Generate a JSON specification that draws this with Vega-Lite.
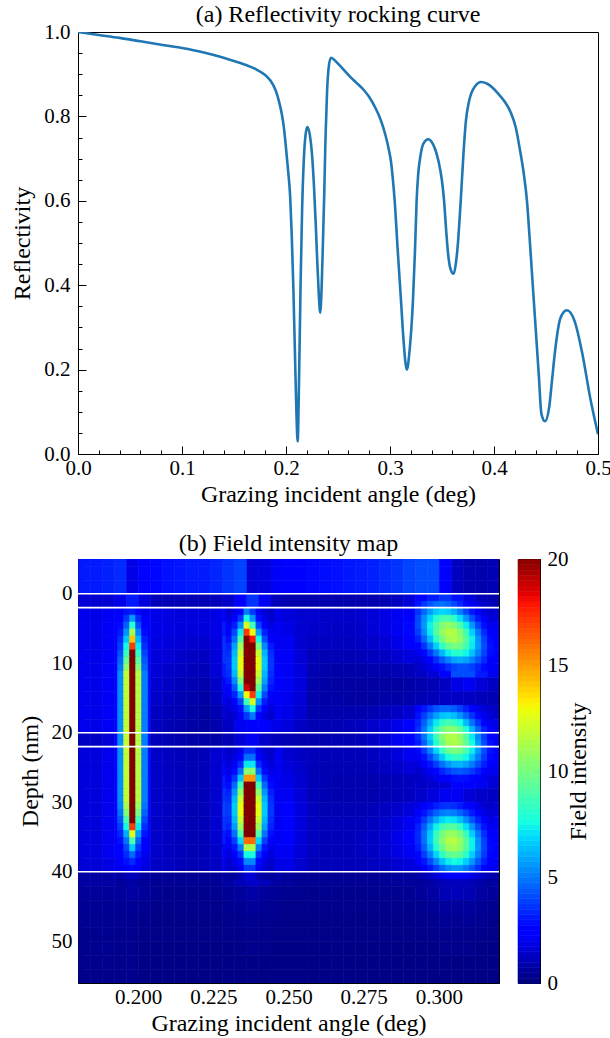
{
  "$schema": "https://vega.github.io/schema/vega-lite/v6.json",
  "background": "white",
  "padding": {"left": 10, "top": 2, "right": 5, "bottom": 2},
  "config": {
    "font": "Liberation Serif",
    "view": {"stroke": "black", "strokeWidth": 1},
    "axis": {"labelFont": "Liberation Serif", "titleFont": "Liberation Serif", "labelFontSize": 21, "titleFontSize": 24, "labelColor": "black", "titleColor": "black", "titleFontWeight": "normal", "domainColor": "black", "tickColor": "black", "grid": false, "labelFlush": false, "labelOverlap": false, "zindex": 1},
    "title": {"font": "Liberation Serif", "fontSize": 24, "fontWeight": "normal", "color": "black"}
  },
  "datasets": {
    "refl": [
      {"a":0,"r":1.0},{"a":0.02,"r":0.993},{"a":0.04,"r":0.986},{"a":0.06,"r":0.978},{"a":0.08,"r":0.97},{"a":0.1,"r":0.962},{"a":0.12,"r":0.952},{"a":0.14,"r":0.939},{"a":0.16,"r":0.923},{"a":0.17,"r":0.913},{"a":0.18,"r":0.898},{"a":0.185,"r":0.885},{"a":0.19,"r":0.862},{"a":0.193,"r":0.838},{"a":0.196,"r":0.805},{"a":0.198,"r":0.773},{"a":0.2,"r":0.725},{"a":0.202,"r":0.672},{"a":0.204,"r":0.61},{"a":0.2055,"r":0.52},{"a":0.207,"r":0.4},{"a":0.2085,"r":0.25},{"a":0.21,"r":0.1},{"a":0.2112,"r":0.03},{"a":0.2125,"r":0.17},{"a":0.214,"r":0.4},{"a":0.2155,"r":0.58},{"a":0.217,"r":0.69},{"a":0.219,"r":0.76},{"a":0.2206,"r":0.775},{"a":0.223,"r":0.755},{"a":0.225,"r":0.71},{"a":0.227,"r":0.63},{"a":0.2285,"r":0.55},{"a":0.23,"r":0.46},{"a":0.2315,"r":0.38},{"a":0.2329,"r":0.335},{"a":0.2342,"r":0.39},{"a":0.2355,"r":0.5},{"a":0.2368,"r":0.62},{"a":0.238,"r":0.75},{"a":0.2395,"r":0.86},{"a":0.241,"r":0.915},{"a":0.2431,"r":0.939},{"a":0.246,"r":0.935},{"a":0.25,"r":0.925},{"a":0.256,"r":0.909},{"a":0.262,"r":0.893},{"a":0.268,"r":0.879},{"a":0.275,"r":0.862},{"a":0.28,"r":0.846},{"a":0.286,"r":0.82},{"a":0.291,"r":0.792},{"a":0.2956,"r":0.756},{"a":0.299,"r":0.72},{"a":0.301,"r":0.692},{"a":0.3028,"r":0.65},{"a":0.3045,"r":0.6},{"a":0.3075,"r":0.48},{"a":0.3106,"r":0.363},{"a":0.313,"r":0.27},{"a":0.3162,"r":0.2},{"a":0.319,"r":0.25},{"a":0.322,"r":0.36},{"a":0.324,"r":0.48},{"a":0.3256,"r":0.6},{"a":0.327,"r":0.66},{"a":0.329,"r":0.702},{"a":0.332,"r":0.735},{"a":0.3368,"r":0.746},{"a":0.34,"r":0.74},{"a":0.344,"r":0.718},{"a":0.347,"r":0.69},{"a":0.35,"r":0.647},{"a":0.352,"r":0.6},{"a":0.354,"r":0.53},{"a":0.3556,"r":0.481},{"a":0.358,"r":0.44},{"a":0.3612,"r":0.427},{"a":0.3635,"r":0.455},{"a":0.3655,"r":0.505},{"a":0.367,"r":0.56},{"a":0.368,"r":0.6},{"a":0.3706,"r":0.71},{"a":0.373,"r":0.79},{"a":0.376,"r":0.836},{"a":0.382,"r":0.872},{"a":0.3875,"r":0.8815},{"a":0.393,"r":0.878},{"a":0.3987,"r":0.868},{"a":0.404,"r":0.854},{"a":0.41,"r":0.836},{"a":0.416,"r":0.81},{"a":0.421,"r":0.773},{"a":0.425,"r":0.72},{"a":0.4287,"r":0.663},{"a":0.4317,"r":0.6},{"a":0.434,"r":0.521},{"a":0.437,"r":0.41},{"a":0.44,"r":0.3},{"a":0.443,"r":0.19},{"a":0.4456,"r":0.095},{"a":0.449,"r":0.0775},{"a":0.453,"r":0.11},{"a":0.456,"r":0.18},{"a":0.4587,"r":0.244},{"a":0.464,"r":0.323},{"a":0.47,"r":0.3405},{"a":0.4775,"r":0.315},{"a":0.485,"r":0.237},{"a":0.4925,"r":0.133},{"a":0.5,"r":0.047}
    ],
    "layers": [{"d":0},{"d":2},{"d":20},{"d":22},{"d":40}],
    "cbar": [
      {"c":0},{"c":0.25},{"c":0.5},{"c":0.75},{"c":1},{"c":1.25},{"c":1.5},{"c":1.75},{"c":2},{"c":2.25},{"c":2.5},{"c":2.75},{"c":3},{"c":3.25},{"c":3.5},{"c":3.75},{"c":4},{"c":4.25},{"c":4.5},{"c":4.75},{"c":5},{"c":5.25},{"c":5.5},{"c":5.75},{"c":6},{"c":6.25},{"c":6.5},{"c":6.75},{"c":7},{"c":7.25},{"c":7.5},{"c":7.75},{"c":8},{"c":8.25},{"c":8.5},{"c":8.75},{"c":9},{"c":9.25},{"c":9.5},{"c":9.75},{"c":10},{"c":10.25},{"c":10.5},{"c":10.75},{"c":11},{"c":11.25},{"c":11.5},{"c":11.75},{"c":12},{"c":12.25},{"c":12.5},{"c":12.75},{"c":13},{"c":13.25},{"c":13.5},{"c":13.75},{"c":14},{"c":14.25},{"c":14.5},{"c":14.75},{"c":15},{"c":15.25},{"c":15.5},{"c":15.75},{"c":16},{"c":16.25},{"c":16.5},{"c":16.75},{"c":17},{"c":17.25},{"c":17.5},{"c":17.75},{"c":18},{"c":18.25},{"c":18.5},{"c":18.75},{"c":19},{"c":19.25},{"c":19.5},{"c":19.75}
    ],
    "field": [
      {"a":0.18,"d":-6,"v":3},{"a":0.184,"d":-6,"v":3},{"a":0.188,"d":-6,"v":3.1},{"a":0.192,"d":-6,"v":3.3},{"a":0.196,"d":-6,"v":1.8},{"a":0.2,"d":-6,"v":2.3},{"a":0.204,"d":-6,"v":2.6},{"a":0.208,"d":-6,"v":2.8},{"a":0.212,"d":-6,"v":2.9},{"a":0.216,"d":-6,"v":3},{"a":0.22,"d":-6,"v":3},{"a":0.224,"d":-6,"v":3.2},{"a":0.228,"d":-6,"v":3.5},{"a":0.232,"d":-6,"v":3.8},{"a":0.236,"d":-6,"v":1.5},{"a":0.24,"d":-6,"v":1.6},{"a":0.244,"d":-6,"v":2.1},{"a":0.248,"d":-6,"v":2.4},{"a":0.252,"d":-6,"v":2.5},{"a":0.256,"d":-6,"v":2.6},{"a":0.26,"d":-6,"v":2.7},{"a":0.264,"d":-6,"v":2.8},{"a":0.268,"d":-6,"v":2.9},{"a":0.272,"d":-6,"v":3},{"a":0.276,"d":-6,"v":3.1},{"a":0.28,"d":-6,"v":3.3},{"a":0.284,"d":-6,"v":3.5},{"a":0.288,"d":-6,"v":3.8},{"a":0.292,"d":-6,"v":4},{"a":0.296,"d":-6,"v":4},{"a":0.3,"d":-6,"v":2.5},{"a":0.304,"d":-6,"v":1.1},{"a":0.308,"d":-6,"v":0.8},{"a":0.312,"d":-6,"v":0.8},{"a":0.316,"d":-6,"v":0.9},
      {"a":0.18,"d":-4,"v":3},{"a":0.184,"d":-4,"v":3},{"a":0.188,"d":-4,"v":3.1},{"a":0.192,"d":-4,"v":3.3},{"a":0.196,"d":-4,"v":1.8},{"a":0.2,"d":-4,"v":2.3},{"a":0.204,"d":-4,"v":2.6},{"a":0.208,"d":-4,"v":2.8},{"a":0.212,"d":-4,"v":2.9},{"a":0.216,"d":-4,"v":3},{"a":0.22,"d":-4,"v":3},{"a":0.224,"d":-4,"v":3.2},{"a":0.228,"d":-4,"v":3.5},{"a":0.232,"d":-4,"v":3.8},{"a":0.236,"d":-4,"v":1.5},{"a":0.24,"d":-4,"v":1.6},{"a":0.244,"d":-4,"v":2.1},{"a":0.248,"d":-4,"v":2.4},{"a":0.252,"d":-4,"v":2.5},{"a":0.256,"d":-4,"v":2.6},{"a":0.26,"d":-4,"v":2.7},{"a":0.264,"d":-4,"v":2.8},{"a":0.268,"d":-4,"v":2.9},{"a":0.272,"d":-4,"v":3},{"a":0.276,"d":-4,"v":3.1},{"a":0.28,"d":-4,"v":3.3},{"a":0.284,"d":-4,"v":3.5},{"a":0.288,"d":-4,"v":3.8},{"a":0.292,"d":-4,"v":4},{"a":0.296,"d":-4,"v":4},{"a":0.3,"d":-4,"v":2.5},{"a":0.304,"d":-4,"v":1.1},{"a":0.308,"d":-4,"v":0.8},{"a":0.312,"d":-4,"v":0.8},{"a":0.316,"d":-4,"v":0.9},
      {"a":0.18,"d":-2,"v":3},{"a":0.184,"d":-2,"v":3},{"a":0.188,"d":-2,"v":3.1},{"a":0.192,"d":-2,"v":3.3},{"a":0.196,"d":-2,"v":1.8},{"a":0.2,"d":-2,"v":2.3},{"a":0.204,"d":-2,"v":2.6},{"a":0.208,"d":-2,"v":2.8},{"a":0.212,"d":-2,"v":2.9},{"a":0.216,"d":-2,"v":3},{"a":0.22,"d":-2,"v":3},{"a":0.224,"d":-2,"v":3.2},{"a":0.228,"d":-2,"v":3.5},{"a":0.232,"d":-2,"v":3.8},{"a":0.236,"d":-2,"v":1.5},{"a":0.24,"d":-2,"v":1.6},{"a":0.244,"d":-2,"v":2.1},{"a":0.248,"d":-2,"v":2.4},{"a":0.252,"d":-2,"v":2.5},{"a":0.256,"d":-2,"v":2.6},{"a":0.26,"d":-2,"v":2.7},{"a":0.264,"d":-2,"v":2.8},{"a":0.268,"d":-2,"v":2.9},{"a":0.272,"d":-2,"v":3},{"a":0.276,"d":-2,"v":3.1},{"a":0.28,"d":-2,"v":3.3},{"a":0.284,"d":-2,"v":3.5},{"a":0.288,"d":-2,"v":3.8},{"a":0.292,"d":-2,"v":4},{"a":0.296,"d":-2,"v":4},{"a":0.3,"d":-2,"v":2.5},{"a":0.304,"d":-2,"v":1.1},{"a":0.308,"d":-2,"v":0.8},{"a":0.312,"d":-2,"v":0.8},{"a":0.316,"d":-2,"v":0.9},
      {"a":0.18,"d":0,"v":1.5},{"a":0.184,"d":0,"v":1.4},{"a":0.188,"d":0,"v":1.4},{"a":0.192,"d":0,"v":1.8},{"a":0.196,"d":0,"v":3},{"a":0.2,"d":0,"v":1.6},{"a":0.204,"d":0,"v":1},{"a":0.208,"d":0,"v":0.9},{"a":0.212,"d":0,"v":0.9},{"a":0.216,"d":0,"v":0.9},{"a":0.22,"d":0,"v":0.9},{"a":0.224,"d":0,"v":1},{"a":0.228,"d":0,"v":1.3},{"a":0.232,"d":0,"v":2.5},{"a":0.236,"d":0,"v":3.5},{"a":0.24,"d":0,"v":2},{"a":0.244,"d":0,"v":1},{"a":0.248,"d":0,"v":0.8},{"a":0.252,"d":0,"v":0.8},{"a":0.256,"d":0,"v":0.8},{"a":0.26,"d":0,"v":0.8},{"a":0.264,"d":0,"v":0.8},{"a":0.268,"d":0,"v":0.8},{"a":0.272,"d":0,"v":0.8},{"a":0.276,"d":0,"v":0.8},{"a":0.28,"d":0,"v":0.9},{"a":0.284,"d":0,"v":1.1},{"a":0.288,"d":0,"v":1.5},{"a":0.292,"d":0,"v":2.2},{"a":0.296,"d":0,"v":3},{"a":0.3,"d":0,"v":3.5},{"a":0.304,"d":0,"v":2.8},{"a":0.308,"d":0,"v":1.6},{"a":0.312,"d":0,"v":1},{"a":0.316,"d":0,"v":0.8},
      {"a":0.18,"d":2,"v":1.9},{"a":0.184,"d":2,"v":1.8},{"a":0.188,"d":2,"v":2.1},{"a":0.192,"d":2,"v":2.5},{"a":0.196,"d":2,"v":5},{"a":0.2,"d":2,"v":2.2},{"a":0.204,"d":2,"v":1.8},{"a":0.208,"d":2,"v":1.7},{"a":0.212,"d":2,"v":1.6},{"a":0.216,"d":2,"v":1.6},{"a":0.22,"d":2,"v":1.6},{"a":0.224,"d":2,"v":1.8},{"a":0.228,"d":2,"v":2.5},{"a":0.232,"d":2,"v":4},{"a":0.236,"d":2,"v":4.5},{"a":0.24,"d":2,"v":2.5},{"a":0.244,"d":2,"v":1.8},{"a":0.248,"d":2,"v":1.6},{"a":0.252,"d":2,"v":1.4},{"a":0.256,"d":2,"v":1.4},{"a":0.26,"d":2,"v":1.3},{"a":0.264,"d":2,"v":1.3},{"a":0.268,"d":2,"v":1.3},{"a":0.272,"d":2,"v":1.4},{"a":0.276,"d":2,"v":1.5},{"a":0.28,"d":2,"v":1.7},{"a":0.284,"d":2,"v":2},{"a":0.288,"d":2,"v":2.3},{"a":0.292,"d":2,"v":3.5},{"a":0.296,"d":2,"v":6},{"a":0.3,"d":2,"v":8},{"a":0.304,"d":2,"v":7},{"a":0.308,"d":2,"v":4},{"a":0.312,"d":2,"v":2},{"a":0.316,"d":2,"v":1.5},
      {"a":0.18,"d":4,"v":1.9},{"a":0.184,"d":4,"v":1.8},{"a":0.188,"d":4,"v":2.1},{"a":0.192,"d":4,"v":2.5},{"a":0.196,"d":4,"v":10},{"a":0.2,"d":4,"v":2.2},{"a":0.204,"d":4,"v":1.8},{"a":0.208,"d":4,"v":1.7},{"a":0.212,"d":4,"v":1.6},{"a":0.216,"d":4,"v":1.6},{"a":0.22,"d":4,"v":1.6},{"a":0.224,"d":4,"v":1.8},{"a":0.228,"d":4,"v":3},{"a":0.232,"d":4,"v":8},{"a":0.236,"d":4,"v":13},{"a":0.24,"d":4,"v":3.5},{"a":0.244,"d":4,"v":2},{"a":0.248,"d":4,"v":1.8},{"a":0.252,"d":4,"v":1.4},{"a":0.256,"d":4,"v":1.3},{"a":0.26,"d":4,"v":1.3},{"a":0.264,"d":4,"v":1.2},{"a":0.268,"d":4,"v":1.2},{"a":0.272,"d":4,"v":1.3},{"a":0.276,"d":4,"v":1.5},{"a":0.28,"d":4,"v":1.7},{"a":0.284,"d":4,"v":2},{"a":0.288,"d":4,"v":2.6},{"a":0.292,"d":4,"v":4},{"a":0.296,"d":4,"v":7},{"a":0.3,"d":4,"v":10.5},{"a":0.304,"d":4,"v":10.5},{"a":0.308,"d":4,"v":7},{"a":0.312,"d":4,"v":3.5},{"a":0.316,"d":4,"v":2},
      {"a":0.18,"d":6,"v":1.9},{"a":0.184,"d":6,"v":1.8},{"a":0.188,"d":6,"v":2.1},{"a":0.192,"d":6,"v":2.5},{"a":0.196,"d":6,"v":15},{"a":0.2,"d":6,"v":2.2},{"a":0.204,"d":6,"v":1.7},{"a":0.208,"d":6,"v":1.6},{"a":0.212,"d":6,"v":1.5},{"a":0.216,"d":6,"v":1.4},{"a":0.22,"d":6,"v":1.4},{"a":0.224,"d":6,"v":1.7},{"a":0.228,"d":6,"v":3.5},{"a":0.232,"d":6,"v":11},{"a":0.236,"d":6,"v":22},{"a":0.24,"d":6,"v":5},{"a":0.244,"d":6,"v":2},{"a":0.248,"d":6,"v":2},{"a":0.252,"d":6,"v":1.4},{"a":0.256,"d":6,"v":1.2},{"a":0.26,"d":6,"v":1.1},{"a":0.264,"d":6,"v":1.1},{"a":0.268,"d":6,"v":1.1},{"a":0.272,"d":6,"v":1.2},{"a":0.276,"d":6,"v":1.3},{"a":0.28,"d":6,"v":1.5},{"a":0.284,"d":6,"v":1.8},{"a":0.288,"d":6,"v":2.2},{"a":0.292,"d":6,"v":3.2},{"a":0.296,"d":6,"v":5.5},{"a":0.3,"d":6,"v":9},{"a":0.304,"d":6,"v":11},{"a":0.308,"d":6,"v":8.5},{"a":0.312,"d":6,"v":4.5},{"a":0.316,"d":6,"v":2.5},
      {"a":0.18,"d":8,"v":1.9},{"a":0.184,"d":8,"v":1.8},{"a":0.188,"d":8,"v":2.1},{"a":0.192,"d":8,"v":2.5},{"a":0.196,"d":8,"v":20},{"a":0.2,"d":8,"v":2.2},{"a":0.204,"d":8,"v":1.6},{"a":0.208,"d":8,"v":1.5},{"a":0.212,"d":8,"v":1.3},{"a":0.216,"d":8,"v":1.2},{"a":0.22,"d":8,"v":1.2},{"a":0.224,"d":8,"v":1.6},{"a":0.228,"d":8,"v":3.5},{"a":0.232,"d":8,"v":11},{"a":0.236,"d":8,"v":25},{"a":0.24,"d":8,"v":6},{"a":0.244,"d":8,"v":2.1},{"a":0.248,"d":8,"v":2.1},{"a":0.252,"d":8,"v":1.5},{"a":0.256,"d":8,"v":1},{"a":0.26,"d":8,"v":0.9},{"a":0.264,"d":8,"v":0.9},{"a":0.268,"d":8,"v":0.9},{"a":0.272,"d":8,"v":1},{"a":0.276,"d":8,"v":1.1},{"a":0.28,"d":8,"v":1.2},{"a":0.284,"d":8,"v":1.4},{"a":0.288,"d":8,"v":1.6},{"a":0.292,"d":8,"v":2},{"a":0.296,"d":8,"v":3},{"a":0.3,"d":8,"v":5.5},{"a":0.304,"d":8,"v":8},{"a":0.308,"d":8,"v":7.5},{"a":0.312,"d":8,"v":4.5},{"a":0.316,"d":8,"v":2.5},
      {"a":0.18,"d":10,"v":1.9},{"a":0.184,"d":10,"v":1.8},{"a":0.188,"d":10,"v":2.1},{"a":0.192,"d":10,"v":2.5},{"a":0.196,"d":10,"v":25},{"a":0.2,"d":10,"v":2.2},{"a":0.204,"d":10,"v":1.5},{"a":0.208,"d":10,"v":1.3},{"a":0.212,"d":10,"v":1.2},{"a":0.216,"d":10,"v":1},{"a":0.22,"d":10,"v":1},{"a":0.224,"d":10,"v":1.5},{"a":0.228,"d":10,"v":3},{"a":0.232,"d":10,"v":10},{"a":0.236,"d":10,"v":25},{"a":0.24,"d":10,"v":7},{"a":0.244,"d":10,"v":2.2},{"a":0.248,"d":10,"v":2},{"a":0.252,"d":10,"v":1.6},{"a":0.256,"d":10,"v":0.9},{"a":0.26,"d":10,"v":0.8},{"a":0.264,"d":10,"v":0.7},{"a":0.268,"d":10,"v":0.7},{"a":0.272,"d":10,"v":0.7},{"a":0.276,"d":10,"v":0.8},{"a":0.28,"d":10,"v":0.8},{"a":0.284,"d":10,"v":0.9},{"a":0.288,"d":10,"v":1},{"a":0.292,"d":10,"v":1.2},{"a":0.296,"d":10,"v":1.5},{"a":0.3,"d":10,"v":2.5},{"a":0.304,"d":10,"v":4},{"a":0.308,"d":10,"v":4},{"a":0.312,"d":10,"v":3},{"a":0.316,"d":10,"v":2},
      {"a":0.18,"d":12,"v":1.9},{"a":0.184,"d":12,"v":1.8},{"a":0.188,"d":12,"v":2.1},{"a":0.192,"d":12,"v":2.5},{"a":0.196,"d":12,"v":25},{"a":0.2,"d":12,"v":2.2},{"a":0.204,"d":12,"v":1.4},{"a":0.208,"d":12,"v":1.2},{"a":0.212,"d":12,"v":1},{"a":0.216,"d":12,"v":0.9},{"a":0.22,"d":12,"v":0.8},{"a":0.224,"d":12,"v":1.3},{"a":0.228,"d":12,"v":2.5},{"a":0.232,"d":12,"v":8},{"a":0.236,"d":12,"v":21},{"a":0.24,"d":12,"v":6.5},{"a":0.244,"d":12,"v":2.2},{"a":0.248,"d":12,"v":2},{"a":0.252,"d":12,"v":1.6},{"a":0.256,"d":12,"v":0.8},{"a":0.26,"d":12,"v":0.7},{"a":0.264,"d":12,"v":0.6},{"a":0.268,"d":12,"v":0.6},{"a":0.272,"d":12,"v":0.6},{"a":0.276,"d":12,"v":0.6},{"a":0.28,"d":12,"v":0.6},{"a":0.284,"d":12,"v":0.6},{"a":0.288,"d":12,"v":0.7},{"a":0.292,"d":12,"v":0.8},{"a":0.296,"d":12,"v":0.9},{"a":0.3,"d":12,"v":1.2},{"a":0.304,"d":12,"v":1.8},{"a":0.308,"d":12,"v":2},{"a":0.312,"d":12,"v":1.5},{"a":0.316,"d":12,"v":1.2},
      {"a":0.18,"d":14,"v":1.9},{"a":0.184,"d":14,"v":1.8},{"a":0.188,"d":14,"v":2.1},{"a":0.192,"d":14,"v":2.5},{"a":0.196,"d":14,"v":25},{"a":0.2,"d":14,"v":2.2},{"a":0.204,"d":14,"v":1.3},{"a":0.208,"d":14,"v":1.1},{"a":0.212,"d":14,"v":0.9},{"a":0.216,"d":14,"v":0.8},{"a":0.22,"d":14,"v":0.7},{"a":0.224,"d":14,"v":1.1},{"a":0.228,"d":14,"v":2},{"a":0.232,"d":14,"v":5},{"a":0.236,"d":14,"v":12},{"a":0.24,"d":14,"v":5},{"a":0.244,"d":14,"v":2.1},{"a":0.248,"d":14,"v":1.9},{"a":0.252,"d":14,"v":1.5},{"a":0.256,"d":14,"v":0.8},{"a":0.26,"d":14,"v":0.7},{"a":0.264,"d":14,"v":0.7},{"a":0.268,"d":14,"v":0.6},{"a":0.272,"d":14,"v":0.6},{"a":0.276,"d":14,"v":0.6},{"a":0.28,"d":14,"v":0.7},{"a":0.284,"d":14,"v":0.7},{"a":0.288,"d":14,"v":0.8},{"a":0.292,"d":14,"v":0.9},{"a":0.296,"d":14,"v":1},{"a":0.3,"d":14,"v":1.2},{"a":0.304,"d":14,"v":1.2},{"a":0.308,"d":14,"v":1.2},{"a":0.312,"d":14,"v":1},{"a":0.316,"d":14,"v":0.9},
      {"a":0.18,"d":16,"v":1.9},{"a":0.184,"d":16,"v":1.8},{"a":0.188,"d":16,"v":2.1},{"a":0.192,"d":16,"v":2.5},{"a":0.196,"d":16,"v":25},{"a":0.2,"d":16,"v":2.2},{"a":0.204,"d":16,"v":1.2},{"a":0.208,"d":16,"v":1},{"a":0.212,"d":16,"v":0.9},{"a":0.216,"d":16,"v":0.7},{"a":0.22,"d":16,"v":0.6},{"a":0.224,"d":16,"v":0.9},{"a":0.228,"d":16,"v":1.5},{"a":0.232,"d":16,"v":3},{"a":0.236,"d":16,"v":5.5},{"a":0.24,"d":16,"v":3.5},{"a":0.244,"d":16,"v":2},{"a":0.248,"d":16,"v":1.8},{"a":0.252,"d":16,"v":1.4},{"a":0.256,"d":16,"v":0.8},{"a":0.26,"d":16,"v":0.8},{"a":0.264,"d":16,"v":0.8},{"a":0.268,"d":16,"v":0.8},{"a":0.272,"d":16,"v":0.8},{"a":0.276,"d":16,"v":0.9},{"a":0.28,"d":16,"v":1},{"a":0.284,"d":16,"v":1.2},{"a":0.288,"d":16,"v":1.4},{"a":0.292,"d":16,"v":1.6},{"a":0.296,"d":16,"v":2.2},{"a":0.3,"d":16,"v":3},{"a":0.304,"d":16,"v":3},{"a":0.308,"d":16,"v":2},{"a":0.312,"d":16,"v":1.5},{"a":0.316,"d":16,"v":1.2},
      {"a":0.18,"d":18,"v":1.9},{"a":0.184,"d":18,"v":1.8},{"a":0.188,"d":18,"v":2.1},{"a":0.192,"d":18,"v":2.5},{"a":0.196,"d":18,"v":25},{"a":0.2,"d":18,"v":2.2},{"a":0.204,"d":18,"v":1.1},{"a":0.208,"d":18,"v":0.9},{"a":0.212,"d":18,"v":0.8},{"a":0.216,"d":18,"v":0.7},{"a":0.22,"d":18,"v":0.6},{"a":0.224,"d":18,"v":0.8},{"a":0.228,"d":18,"v":1.2},{"a":0.232,"d":18,"v":2},{"a":0.236,"d":18,"v":2.5},{"a":0.24,"d":18,"v":2.2},{"a":0.244,"d":18,"v":1.8},{"a":0.248,"d":18,"v":1.6},{"a":0.252,"d":18,"v":1.2},{"a":0.256,"d":18,"v":0.9},{"a":0.26,"d":18,"v":0.9},{"a":0.264,"d":18,"v":0.9},{"a":0.268,"d":18,"v":1},{"a":0.272,"d":18,"v":1.1},{"a":0.276,"d":18,"v":1.3},{"a":0.28,"d":18,"v":1.5},{"a":0.284,"d":18,"v":1.8},{"a":0.288,"d":18,"v":2.2},{"a":0.292,"d":18,"v":3},{"a":0.296,"d":18,"v":5.5},{"a":0.3,"d":18,"v":9},{"a":0.304,"d":18,"v":8},{"a":0.308,"d":18,"v":5},{"a":0.312,"d":18,"v":2.5},{"a":0.316,"d":18,"v":1.8},
      {"a":0.18,"d":20,"v":1.2},{"a":0.184,"d":20,"v":1.2},{"a":0.188,"d":20,"v":1.5},{"a":0.192,"d":20,"v":2.5},{"a":0.196,"d":20,"v":25},{"a":0.2,"d":20,"v":2.2},{"a":0.204,"d":20,"v":1},{"a":0.208,"d":20,"v":0.9},{"a":0.212,"d":20,"v":0.8},{"a":0.216,"d":20,"v":0.7},{"a":0.22,"d":20,"v":0.7},{"a":0.224,"d":20,"v":0.7},{"a":0.228,"d":20,"v":0.9},{"a":0.232,"d":20,"v":1.5},{"a":0.236,"d":20,"v":2},{"a":0.24,"d":20,"v":1.3},{"a":0.244,"d":20,"v":1},{"a":0.248,"d":20,"v":0.9},{"a":0.252,"d":20,"v":0.8},{"a":0.256,"d":20,"v":0.8},{"a":0.26,"d":20,"v":0.8},{"a":0.264,"d":20,"v":0.9},{"a":0.268,"d":20,"v":0.9},{"a":0.272,"d":20,"v":1},{"a":0.276,"d":20,"v":1.2},{"a":0.28,"d":20,"v":1.5},{"a":0.284,"d":20,"v":2},{"a":0.288,"d":20,"v":2.5},{"a":0.292,"d":20,"v":3.5},{"a":0.296,"d":20,"v":6.5},{"a":0.3,"d":20,"v":11},{"a":0.304,"d":20,"v":11.5},{"a":0.308,"d":20,"v":8},{"a":0.312,"d":20,"v":4},{"a":0.316,"d":20,"v":2},
      {"a":0.18,"d":22,"v":1.6},{"a":0.184,"d":22,"v":1.6},{"a":0.188,"d":22,"v":1.9},{"a":0.192,"d":22,"v":2.5},{"a":0.196,"d":22,"v":25},{"a":0.2,"d":22,"v":2.2},{"a":0.204,"d":22,"v":1.3},{"a":0.208,"d":22,"v":1.1},{"a":0.212,"d":22,"v":1},{"a":0.216,"d":22,"v":0.9},{"a":0.22,"d":22,"v":1},{"a":0.224,"d":22,"v":1.4},{"a":0.228,"d":22,"v":1.8},{"a":0.232,"d":22,"v":2.5},{"a":0.236,"d":22,"v":4},{"a":0.24,"d":22,"v":2},{"a":0.244,"d":22,"v":2},{"a":0.248,"d":22,"v":1.4},{"a":0.252,"d":22,"v":1.2},{"a":0.256,"d":22,"v":1},{"a":0.26,"d":22,"v":1},{"a":0.264,"d":22,"v":1},{"a":0.268,"d":22,"v":1},{"a":0.272,"d":22,"v":1},{"a":0.276,"d":22,"v":1.1},{"a":0.28,"d":22,"v":1.3},{"a":0.284,"d":22,"v":1.6},{"a":0.288,"d":22,"v":2},{"a":0.292,"d":22,"v":2.5},{"a":0.296,"d":22,"v":4},{"a":0.3,"d":22,"v":7},{"a":0.304,"d":22,"v":9.5},{"a":0.308,"d":22,"v":8},{"a":0.312,"d":22,"v":4.5},{"a":0.316,"d":22,"v":2.5},
      {"a":0.18,"d":24,"v":1.6},{"a":0.184,"d":24,"v":1.6},{"a":0.188,"d":24,"v":1.9},{"a":0.192,"d":24,"v":2.5},{"a":0.196,"d":24,"v":25},{"a":0.2,"d":24,"v":2.2},{"a":0.204,"d":24,"v":1.3},{"a":0.208,"d":24,"v":1.1},{"a":0.212,"d":24,"v":1},{"a":0.216,"d":24,"v":0.9},{"a":0.22,"d":24,"v":1},{"a":0.224,"d":24,"v":1.4},{"a":0.228,"d":24,"v":2.2},{"a":0.232,"d":24,"v":4.5},{"a":0.236,"d":24,"v":7},{"a":0.24,"d":24,"v":3},{"a":0.244,"d":24,"v":2},{"a":0.248,"d":24,"v":1.6},{"a":0.252,"d":24,"v":1.3},{"a":0.256,"d":24,"v":1},{"a":0.26,"d":24,"v":0.9},{"a":0.264,"d":24,"v":0.9},{"a":0.268,"d":24,"v":0.9},{"a":0.272,"d":24,"v":0.9},{"a":0.276,"d":24,"v":1},{"a":0.28,"d":24,"v":1.1},{"a":0.284,"d":24,"v":1.3},{"a":0.288,"d":24,"v":1.5},{"a":0.292,"d":24,"v":1.8},{"a":0.296,"d":24,"v":2.2},{"a":0.3,"d":24,"v":3},{"a":0.304,"d":24,"v":5},{"a":0.308,"d":24,"v":5},{"a":0.312,"d":24,"v":3.5},{"a":0.316,"d":24,"v":2},
      {"a":0.18,"d":26,"v":1.6},{"a":0.184,"d":26,"v":1.6},{"a":0.188,"d":26,"v":1.9},{"a":0.192,"d":26,"v":2.5},{"a":0.196,"d":26,"v":25},{"a":0.2,"d":26,"v":2.2},{"a":0.204,"d":26,"v":1.3},{"a":0.208,"d":26,"v":1.1},{"a":0.212,"d":26,"v":1},{"a":0.216,"d":26,"v":0.9},{"a":0.22,"d":26,"v":1},{"a":0.224,"d":26,"v":1.4},{"a":0.228,"d":26,"v":3},{"a":0.232,"d":26,"v":8},{"a":0.236,"d":26,"v":17},{"a":0.24,"d":26,"v":5},{"a":0.244,"d":26,"v":2},{"a":0.248,"d":26,"v":1.8},{"a":0.252,"d":26,"v":1.4},{"a":0.256,"d":26,"v":1},{"a":0.26,"d":26,"v":0.9},{"a":0.264,"d":26,"v":0.8},{"a":0.268,"d":26,"v":0.8},{"a":0.272,"d":26,"v":0.8},{"a":0.276,"d":26,"v":0.8},{"a":0.28,"d":26,"v":0.9},{"a":0.284,"d":26,"v":1},{"a":0.288,"d":26,"v":1.1},{"a":0.292,"d":26,"v":1.2},{"a":0.296,"d":26,"v":1.3},{"a":0.3,"d":26,"v":1.5},{"a":0.304,"d":26,"v":2.2},{"a":0.308,"d":26,"v":2.5},{"a":0.312,"d":26,"v":2},{"a":0.316,"d":26,"v":1.5},
      {"a":0.18,"d":28,"v":1.6},{"a":0.184,"d":28,"v":1.6},{"a":0.188,"d":28,"v":1.9},{"a":0.192,"d":28,"v":2.5},{"a":0.196,"d":28,"v":25},{"a":0.2,"d":28,"v":2.2},{"a":0.204,"d":28,"v":1.3},{"a":0.208,"d":28,"v":1.1},{"a":0.212,"d":28,"v":1},{"a":0.216,"d":28,"v":0.9},{"a":0.22,"d":28,"v":1},{"a":0.224,"d":28,"v":1.4},{"a":0.228,"d":28,"v":3.5},{"a":0.232,"d":28,"v":10},{"a":0.236,"d":28,"v":23},{"a":0.24,"d":28,"v":6.5},{"a":0.244,"d":28,"v":2},{"a":0.248,"d":28,"v":2},{"a":0.252,"d":28,"v":1.5},{"a":0.256,"d":28,"v":1},{"a":0.26,"d":28,"v":0.9},{"a":0.264,"d":28,"v":0.8},{"a":0.268,"d":28,"v":0.8},{"a":0.272,"d":28,"v":0.8},{"a":0.276,"d":28,"v":0.8},{"a":0.28,"d":28,"v":0.9},{"a":0.284,"d":28,"v":1},{"a":0.288,"d":28,"v":1.1},{"a":0.292,"d":28,"v":1.3},{"a":0.296,"d":28,"v":1.6},{"a":0.3,"d":28,"v":2},{"a":0.304,"d":28,"v":2},{"a":0.308,"d":28,"v":1.5},{"a":0.312,"d":28,"v":1.3},{"a":0.316,"d":28,"v":1.2},
      {"a":0.18,"d":30,"v":1.6},{"a":0.184,"d":30,"v":1.6},{"a":0.188,"d":30,"v":1.9},{"a":0.192,"d":30,"v":2.5},{"a":0.196,"d":30,"v":22},{"a":0.2,"d":30,"v":2.2},{"a":0.204,"d":30,"v":1.3},{"a":0.208,"d":30,"v":1.1},{"a":0.212,"d":30,"v":1},{"a":0.216,"d":30,"v":0.9},{"a":0.22,"d":30,"v":1},{"a":0.224,"d":30,"v":1.4},{"a":0.228,"d":30,"v":3.8},{"a":0.232,"d":30,"v":11},{"a":0.236,"d":30,"v":25},{"a":0.24,"d":30,"v":7},{"a":0.244,"d":30,"v":2},{"a":0.248,"d":30,"v":2.2},{"a":0.252,"d":30,"v":1.6},{"a":0.256,"d":30,"v":1.1},{"a":0.26,"d":30,"v":0.9},{"a":0.264,"d":30,"v":0.9},{"a":0.268,"d":30,"v":0.9},{"a":0.272,"d":30,"v":0.9},{"a":0.276,"d":30,"v":1},{"a":0.28,"d":30,"v":1.1},{"a":0.284,"d":30,"v":1.3},{"a":0.288,"d":30,"v":1.6},{"a":0.292,"d":30,"v":2.2},{"a":0.296,"d":30,"v":2.5},{"a":0.3,"d":30,"v":4},{"a":0.304,"d":30,"v":4},{"a":0.308,"d":30,"v":3},{"a":0.312,"d":30,"v":2},{"a":0.316,"d":30,"v":1.5},
      {"a":0.18,"d":32,"v":1.6},{"a":0.184,"d":32,"v":1.6},{"a":0.188,"d":32,"v":1.9},{"a":0.192,"d":32,"v":2.5},{"a":0.196,"d":32,"v":18},{"a":0.2,"d":32,"v":2.2},{"a":0.204,"d":32,"v":1.3},{"a":0.208,"d":32,"v":1.1},{"a":0.212,"d":32,"v":1},{"a":0.216,"d":32,"v":0.9},{"a":0.22,"d":32,"v":1},{"a":0.224,"d":32,"v":1.4},{"a":0.228,"d":32,"v":3.5},{"a":0.232,"d":32,"v":10},{"a":0.236,"d":32,"v":23},{"a":0.24,"d":32,"v":7},{"a":0.244,"d":32,"v":2},{"a":0.248,"d":32,"v":2.2},{"a":0.252,"d":32,"v":1.6},{"a":0.256,"d":32,"v":1.1},{"a":0.26,"d":32,"v":1},{"a":0.264,"d":32,"v":1},{"a":0.268,"d":32,"v":1},{"a":0.272,"d":32,"v":1},{"a":0.276,"d":32,"v":1.1},{"a":0.28,"d":32,"v":1.3},{"a":0.284,"d":32,"v":1.6},{"a":0.288,"d":32,"v":2},{"a":0.292,"d":32,"v":2.8},{"a":0.296,"d":32,"v":5},{"a":0.3,"d":32,"v":8},{"a":0.304,"d":32,"v":8},{"a":0.308,"d":32,"v":6},{"a":0.312,"d":32,"v":3.5},{"a":0.316,"d":32,"v":2},
      {"a":0.18,"d":34,"v":1.6},{"a":0.184,"d":34,"v":1.6},{"a":0.188,"d":34,"v":1.9},{"a":0.192,"d":34,"v":2.5},{"a":0.196,"d":34,"v":10},{"a":0.2,"d":34,"v":2.2},{"a":0.204,"d":34,"v":1.3},{"a":0.208,"d":34,"v":1.1},{"a":0.212,"d":34,"v":1},{"a":0.216,"d":34,"v":0.9},{"a":0.22,"d":34,"v":1},{"a":0.224,"d":34,"v":1.4},{"a":0.228,"d":34,"v":3},{"a":0.232,"d":34,"v":8},{"a":0.236,"d":34,"v":17},{"a":0.24,"d":34,"v":6},{"a":0.244,"d":34,"v":2},{"a":0.248,"d":34,"v":2.2},{"a":0.252,"d":34,"v":1.6},{"a":0.256,"d":34,"v":1.1},{"a":0.26,"d":34,"v":1},{"a":0.264,"d":34,"v":1},{"a":0.268,"d":34,"v":1},{"a":0.272,"d":34,"v":1.1},{"a":0.276,"d":34,"v":1.2},{"a":0.28,"d":34,"v":1.4},{"a":0.284,"d":34,"v":1.8},{"a":0.288,"d":34,"v":2.2},{"a":0.292,"d":34,"v":3.5},{"a":0.296,"d":34,"v":6.5},{"a":0.3,"d":34,"v":10.5},{"a":0.304,"d":34,"v":11.5},{"a":0.308,"d":34,"v":8.5},{"a":0.312,"d":34,"v":4.5},{"a":0.316,"d":34,"v":2.5},
      {"a":0.18,"d":36,"v":1.6},{"a":0.184,"d":36,"v":1.6},{"a":0.188,"d":36,"v":1.9},{"a":0.192,"d":36,"v":2.3},{"a":0.196,"d":36,"v":6},{"a":0.2,"d":36,"v":2},{"a":0.204,"d":36,"v":1.3},{"a":0.208,"d":36,"v":1.1},{"a":0.212,"d":36,"v":1},{"a":0.216,"d":36,"v":0.9},{"a":0.22,"d":36,"v":1},{"a":0.224,"d":36,"v":1.3},{"a":0.228,"d":36,"v":2.5},{"a":0.232,"d":36,"v":5},{"a":0.236,"d":36,"v":9},{"a":0.24,"d":36,"v":4.5},{"a":0.244,"d":36,"v":2},{"a":0.248,"d":36,"v":2},{"a":0.252,"d":36,"v":1.5},{"a":0.256,"d":36,"v":1.1},{"a":0.26,"d":36,"v":1},{"a":0.264,"d":36,"v":1},{"a":0.268,"d":36,"v":1},{"a":0.272,"d":36,"v":1.1},{"a":0.276,"d":36,"v":1.2},{"a":0.28,"d":36,"v":1.4},{"a":0.284,"d":36,"v":1.7},{"a":0.288,"d":36,"v":2},{"a":0.292,"d":36,"v":3},{"a":0.296,"d":36,"v":5},{"a":0.3,"d":36,"v":8},{"a":0.304,"d":36,"v":10},{"a":0.308,"d":36,"v":8},{"a":0.312,"d":36,"v":4.5},{"a":0.316,"d":36,"v":2.5},
      {"a":0.18,"d":38,"v":1.5},{"a":0.184,"d":38,"v":1.5},{"a":0.188,"d":38,"v":1.7},{"a":0.192,"d":38,"v":2},{"a":0.196,"d":38,"v":3},{"a":0.2,"d":38,"v":1.8},{"a":0.204,"d":38,"v":1.2},{"a":0.208,"d":38,"v":1.1},{"a":0.212,"d":38,"v":1},{"a":0.216,"d":38,"v":0.9},{"a":0.22,"d":38,"v":1},{"a":0.224,"d":38,"v":1.2},{"a":0.228,"d":38,"v":2},{"a":0.232,"d":38,"v":3},{"a":0.236,"d":38,"v":4},{"a":0.24,"d":38,"v":3},{"a":0.244,"d":38,"v":1.8},{"a":0.248,"d":38,"v":1.8},{"a":0.252,"d":38,"v":1.4},{"a":0.256,"d":38,"v":1},{"a":0.26,"d":38,"v":1},{"a":0.264,"d":38,"v":1},{"a":0.268,"d":38,"v":1},{"a":0.272,"d":38,"v":1},{"a":0.276,"d":38,"v":1.1},{"a":0.28,"d":38,"v":1.2},{"a":0.284,"d":38,"v":1.4},{"a":0.288,"d":38,"v":1.6},{"a":0.292,"d":38,"v":2},{"a":0.296,"d":38,"v":3},{"a":0.3,"d":38,"v":4.5},{"a":0.304,"d":38,"v":6},{"a":0.308,"d":38,"v":5},{"a":0.312,"d":38,"v":3},{"a":0.316,"d":38,"v":2},
      {"a":0.18,"d":40,"v":0.6},{"a":0.184,"d":40,"v":0.6},{"a":0.188,"d":40,"v":0.6},{"a":0.192,"d":40,"v":0.7},{"a":0.196,"d":40,"v":1.2},{"a":0.2,"d":40,"v":0.6},{"a":0.204,"d":40,"v":0.4},{"a":0.208,"d":40,"v":0.35},{"a":0.212,"d":40,"v":0.35},{"a":0.216,"d":40,"v":0.35},{"a":0.22,"d":40,"v":0.35},{"a":0.224,"d":40,"v":0.4},{"a":0.228,"d":40,"v":0.6},{"a":0.232,"d":40,"v":1},{"a":0.236,"d":40,"v":1.3},{"a":0.24,"d":40,"v":1},{"a":0.244,"d":40,"v":0.6},{"a":0.248,"d":40,"v":0.45},{"a":0.252,"d":40,"v":0.4},{"a":0.256,"d":40,"v":0.35},{"a":0.26,"d":40,"v":0.35},{"a":0.264,"d":40,"v":0.35},{"a":0.268,"d":40,"v":0.35},{"a":0.272,"d":40,"v":0.35},{"a":0.276,"d":40,"v":0.35},{"a":0.28,"d":40,"v":0.4},{"a":0.284,"d":40,"v":0.45},{"a":0.288,"d":40,"v":0.5},{"a":0.292,"d":40,"v":0.7},{"a":0.296,"d":40,"v":1.2},{"a":0.3,"d":40,"v":2},{"a":0.304,"d":40,"v":2.5},{"a":0.308,"d":40,"v":2},{"a":0.312,"d":40,"v":1.2},{"a":0.316,"d":40,"v":0.7},
      {"a":0.18,"d":42,"v":0.45},{"a":0.184,"d":42,"v":0.45},{"a":0.188,"d":42,"v":0.45},{"a":0.192,"d":42,"v":0.5},{"a":0.196,"d":42,"v":0.6},{"a":0.2,"d":42,"v":0.45},{"a":0.204,"d":42,"v":0.3},{"a":0.208,"d":42,"v":0.25},{"a":0.212,"d":42,"v":0.25},{"a":0.216,"d":42,"v":0.25},{"a":0.22,"d":42,"v":0.25},{"a":0.224,"d":42,"v":0.3},{"a":0.228,"d":42,"v":0.4},{"a":0.232,"d":42,"v":0.5},{"a":0.236,"d":42,"v":0.7},{"a":0.24,"d":42,"v":0.5},{"a":0.244,"d":42,"v":0.4},{"a":0.248,"d":42,"v":0.3},{"a":0.252,"d":42,"v":0.25},{"a":0.256,"d":42,"v":0.25},{"a":0.26,"d":42,"v":0.25},{"a":0.264,"d":42,"v":0.25},{"a":0.268,"d":42,"v":0.25},{"a":0.272,"d":42,"v":0.25},{"a":0.276,"d":42,"v":0.25},{"a":0.28,"d":42,"v":0.3},{"a":0.284,"d":42,"v":0.3},{"a":0.288,"d":42,"v":0.35},{"a":0.292,"d":42,"v":0.45},{"a":0.296,"d":42,"v":0.6},{"a":0.3,"d":42,"v":0.9},{"a":0.304,"d":42,"v":1},{"a":0.308,"d":42,"v":0.9},{"a":0.312,"d":42,"v":0.6},{"a":0.316,"d":42,"v":0.45},
      {"a":0.18,"d":44,"v":0.35},{"a":0.184,"d":44,"v":0.35},{"a":0.188,"d":44,"v":0.35},{"a":0.192,"d":44,"v":0.35},{"a":0.196,"d":44,"v":0.4},{"a":0.2,"d":44,"v":0.3},{"a":0.204,"d":44,"v":0.2},{"a":0.208,"d":44,"v":0.2},{"a":0.212,"d":44,"v":0.2},{"a":0.216,"d":44,"v":0.2},{"a":0.22,"d":44,"v":0.2},{"a":0.224,"d":44,"v":0.2},{"a":0.228,"d":44,"v":0.3},{"a":0.232,"d":44,"v":0.35},{"a":0.236,"d":44,"v":0.45},{"a":0.24,"d":44,"v":0.35},{"a":0.244,"d":44,"v":0.3},{"a":0.248,"d":44,"v":0.2},{"a":0.252,"d":44,"v":0.2},{"a":0.256,"d":44,"v":0.2},{"a":0.26,"d":44,"v":0.2},{"a":0.264,"d":44,"v":0.2},{"a":0.268,"d":44,"v":0.2},{"a":0.272,"d":44,"v":0.2},{"a":0.276,"d":44,"v":0.2},{"a":0.28,"d":44,"v":0.2},{"a":0.284,"d":44,"v":0.25},{"a":0.288,"d":44,"v":0.25},{"a":0.292,"d":44,"v":0.3},{"a":0.296,"d":44,"v":0.4},{"a":0.3,"d":44,"v":0.5},{"a":0.304,"d":44,"v":0.5},{"a":0.308,"d":44,"v":0.5},{"a":0.312,"d":44,"v":0.4},{"a":0.316,"d":44,"v":0.3},
      {"a":0.18,"d":46,"v":0.3},{"a":0.184,"d":46,"v":0.3},{"a":0.188,"d":46,"v":0.3},{"a":0.192,"d":46,"v":0.3},{"a":0.196,"d":46,"v":0.3},{"a":0.2,"d":46,"v":0.2},{"a":0.204,"d":46,"v":0.15},{"a":0.208,"d":46,"v":0.15},{"a":0.212,"d":46,"v":0.15},{"a":0.216,"d":46,"v":0.15},{"a":0.22,"d":46,"v":0.15},{"a":0.224,"d":46,"v":0.15},{"a":0.228,"d":46,"v":0.2},{"a":0.232,"d":46,"v":0.25},{"a":0.236,"d":46,"v":0.3},{"a":0.24,"d":46,"v":0.25},{"a":0.244,"d":46,"v":0.2},{"a":0.248,"d":46,"v":0.15},{"a":0.252,"d":46,"v":0.15},{"a":0.256,"d":46,"v":0.15},{"a":0.26,"d":46,"v":0.15},{"a":0.264,"d":46,"v":0.15},{"a":0.268,"d":46,"v":0.15},{"a":0.272,"d":46,"v":0.15},{"a":0.276,"d":46,"v":0.15},{"a":0.28,"d":46,"v":0.15},{"a":0.284,"d":46,"v":0.15},{"a":0.288,"d":46,"v":0.2},{"a":0.292,"d":46,"v":0.2},{"a":0.296,"d":46,"v":0.3},{"a":0.3,"d":46,"v":0.35},{"a":0.304,"d":46,"v":0.35},{"a":0.308,"d":46,"v":0.35},{"a":0.312,"d":46,"v":0.3},{"a":0.316,"d":46,"v":0.2},
      {"a":0.18,"d":48,"v":0.25},{"a":0.184,"d":48,"v":0.25},{"a":0.188,"d":48,"v":0.25},{"a":0.192,"d":48,"v":0.25},{"a":0.196,"d":48,"v":0.25},{"a":0.2,"d":48,"v":0.15},{"a":0.204,"d":48,"v":0.15},{"a":0.208,"d":48,"v":0.15},{"a":0.212,"d":48,"v":0.15},{"a":0.216,"d":48,"v":0.15},{"a":0.22,"d":48,"v":0.15},{"a":0.224,"d":48,"v":0.15},{"a":0.228,"d":48,"v":0.15},{"a":0.232,"d":48,"v":0.2},{"a":0.236,"d":48,"v":0.25},{"a":0.24,"d":48,"v":0.2},{"a":0.244,"d":48,"v":0.15},{"a":0.248,"d":48,"v":0.15},{"a":0.252,"d":48,"v":0.15},{"a":0.256,"d":48,"v":0.15},{"a":0.26,"d":48,"v":0.15},{"a":0.264,"d":48,"v":0.15},{"a":0.268,"d":48,"v":0.15},{"a":0.272,"d":48,"v":0.15},{"a":0.276,"d":48,"v":0.15},{"a":0.28,"d":48,"v":0.15},{"a":0.284,"d":48,"v":0.15},{"a":0.288,"d":48,"v":0.15},{"a":0.292,"d":48,"v":0.15},{"a":0.296,"d":48,"v":0.2},{"a":0.3,"d":48,"v":0.25},{"a":0.304,"d":48,"v":0.25},{"a":0.308,"d":48,"v":0.25},{"a":0.312,"d":48,"v":0.2},{"a":0.316,"d":48,"v":0.15},
      {"a":0.18,"d":50,"v":0.25},{"a":0.184,"d":50,"v":0.25},{"a":0.188,"d":50,"v":0.25},{"a":0.192,"d":50,"v":0.25},{"a":0.196,"d":50,"v":0.25},{"a":0.2,"d":50,"v":0.12},{"a":0.204,"d":50,"v":0.12},{"a":0.208,"d":50,"v":0.12},{"a":0.212,"d":50,"v":0.12},{"a":0.216,"d":50,"v":0.12},{"a":0.22,"d":50,"v":0.12},{"a":0.224,"d":50,"v":0.12},{"a":0.228,"d":50,"v":0.12},{"a":0.232,"d":50,"v":0.15},{"a":0.236,"d":50,"v":0.2},{"a":0.24,"d":50,"v":0.15},{"a":0.244,"d":50,"v":0.12},{"a":0.248,"d":50,"v":0.12},{"a":0.252,"d":50,"v":0.12},{"a":0.256,"d":50,"v":0.12},{"a":0.26,"d":50,"v":0.12},{"a":0.264,"d":50,"v":0.12},{"a":0.268,"d":50,"v":0.12},{"a":0.272,"d":50,"v":0.12},{"a":0.276,"d":50,"v":0.12},{"a":0.28,"d":50,"v":0.12},{"a":0.284,"d":50,"v":0.12},{"a":0.288,"d":50,"v":0.12},{"a":0.292,"d":50,"v":0.12},{"a":0.296,"d":50,"v":0.12},{"a":0.3,"d":50,"v":0.2},{"a":0.304,"d":50,"v":0.2},{"a":0.308,"d":50,"v":0.2},{"a":0.312,"d":50,"v":0.12},{"a":0.316,"d":50,"v":0.12},
      {"a":0.18,"d":52,"v":0.2},{"a":0.184,"d":52,"v":0.2},{"a":0.188,"d":52,"v":0.2},{"a":0.192,"d":52,"v":0.2},{"a":0.196,"d":52,"v":0.2},{"a":0.2,"d":52,"v":0.1},{"a":0.204,"d":52,"v":0.1},{"a":0.208,"d":52,"v":0.1},{"a":0.212,"d":52,"v":0.1},{"a":0.216,"d":52,"v":0.1},{"a":0.22,"d":52,"v":0.1},{"a":0.224,"d":52,"v":0.1},{"a":0.228,"d":52,"v":0.1},{"a":0.232,"d":52,"v":0.1},{"a":0.236,"d":52,"v":0.1},{"a":0.24,"d":52,"v":0.1},{"a":0.244,"d":52,"v":0.1},{"a":0.248,"d":52,"v":0.1},{"a":0.252,"d":52,"v":0.1},{"a":0.256,"d":52,"v":0.1},{"a":0.26,"d":52,"v":0.1},{"a":0.264,"d":52,"v":0.1},{"a":0.268,"d":52,"v":0.1},{"a":0.272,"d":52,"v":0.1},{"a":0.276,"d":52,"v":0.1},{"a":0.28,"d":52,"v":0.1},{"a":0.284,"d":52,"v":0.1},{"a":0.288,"d":52,"v":0.1},{"a":0.292,"d":52,"v":0.1},{"a":0.296,"d":52,"v":0.1},{"a":0.3,"d":52,"v":0.1},{"a":0.304,"d":52,"v":0.1},{"a":0.308,"d":52,"v":0.1},{"a":0.312,"d":52,"v":0.1},{"a":0.316,"d":52,"v":0.1},
      {"a":0.18,"d":54,"v":0.2},{"a":0.184,"d":54,"v":0.2},{"a":0.188,"d":54,"v":0.2},{"a":0.192,"d":54,"v":0.2},{"a":0.196,"d":54,"v":0.2},{"a":0.2,"d":54,"v":0.1},{"a":0.204,"d":54,"v":0.1},{"a":0.208,"d":54,"v":0.1},{"a":0.212,"d":54,"v":0.1},{"a":0.216,"d":54,"v":0.1},{"a":0.22,"d":54,"v":0.1},{"a":0.224,"d":54,"v":0.1},{"a":0.228,"d":54,"v":0.1},{"a":0.232,"d":54,"v":0.1},{"a":0.236,"d":54,"v":0.1},{"a":0.24,"d":54,"v":0.1},{"a":0.244,"d":54,"v":0.1},{"a":0.248,"d":54,"v":0.1},{"a":0.252,"d":54,"v":0.1},{"a":0.256,"d":54,"v":0.1},{"a":0.26,"d":54,"v":0.1},{"a":0.264,"d":54,"v":0.1},{"a":0.268,"d":54,"v":0.1},{"a":0.272,"d":54,"v":0.1},{"a":0.276,"d":54,"v":0.1},{"a":0.28,"d":54,"v":0.1},{"a":0.284,"d":54,"v":0.1},{"a":0.288,"d":54,"v":0.1},{"a":0.292,"d":54,"v":0.1},{"a":0.296,"d":54,"v":0.1},{"a":0.3,"d":54,"v":0.1},{"a":0.304,"d":54,"v":0.1},{"a":0.308,"d":54,"v":0.1},{"a":0.312,"d":54,"v":0.1},{"a":0.316,"d":54,"v":0.1}
    ],
    "fine": [
      {"a":0.193,"d":2,"v":2.1},{"a":0.195,"d":2,"v":2.8},{"a":0.197,"d":2,"v":3},{"a":0.199,"d":2,"v":2.5},{"a":0.201,"d":2,"v":1.8},
      {"a":0.193,"d":3,"v":2.4},{"a":0.195,"d":3,"v":3.6},{"a":0.197,"d":3,"v":5.5},{"a":0.199,"d":3,"v":3.3},{"a":0.201,"d":3,"v":2.1},
      {"a":0.193,"d":4,"v":2.7},{"a":0.195,"d":4,"v":4.4},{"a":0.197,"d":4,"v":8},{"a":0.199,"d":4,"v":4.1},{"a":0.201,"d":4,"v":2.4},
      {"a":0.193,"d":5,"v":3},{"a":0.195,"d":5,"v":5.4},{"a":0.197,"d":5,"v":11},{"a":0.199,"d":5,"v":5.1},{"a":0.201,"d":5,"v":2.7},
      {"a":0.193,"d":6,"v":3.4},{"a":0.195,"d":6,"v":6.4},{"a":0.197,"d":6,"v":14},{"a":0.199,"d":6,"v":6.1},{"a":0.201,"d":6,"v":3.1},
      {"a":0.193,"d":7,"v":3.7},{"a":0.195,"d":7,"v":7.4},{"a":0.197,"d":7,"v":17},{"a":0.199,"d":7,"v":7.1},{"a":0.201,"d":7,"v":3.4},
      {"a":0.193,"d":8,"v":4.1},{"a":0.195,"d":8,"v":8.4},{"a":0.197,"d":8,"v":20},{"a":0.199,"d":8,"v":8.1},{"a":0.201,"d":8,"v":3.8},
      {"a":0.193,"d":9,"v":4.5},{"a":0.195,"d":9,"v":9.4},{"a":0.197,"d":9,"v":23},{"a":0.199,"d":9,"v":9.1},{"a":0.201,"d":9,"v":4.2},
      {"a":0.193,"d":10,"v":4.8},{"a":0.195,"d":10,"v":10.4},{"a":0.197,"d":10,"v":26},{"a":0.199,"d":10,"v":10.1},{"a":0.201,"d":10,"v":4.5},
      {"a":0.193,"d":11,"v":5.3},{"a":0.195,"d":11,"v":11.7},{"a":0.197,"d":11,"v":30},{"a":0.199,"d":11,"v":11.4},{"a":0.201,"d":11,"v":5},
      {"a":0.193,"d":12,"v":5.3},{"a":0.195,"d":12,"v":11.7},{"a":0.197,"d":12,"v":30},{"a":0.199,"d":12,"v":11.4},{"a":0.201,"d":12,"v":5},
      {"a":0.193,"d":13,"v":5.3},{"a":0.195,"d":13,"v":11.7},{"a":0.197,"d":13,"v":30},{"a":0.199,"d":13,"v":11.4},{"a":0.201,"d":13,"v":5},
      {"a":0.193,"d":14,"v":5.3},{"a":0.195,"d":14,"v":11.7},{"a":0.197,"d":14,"v":30},{"a":0.199,"d":14,"v":11.4},{"a":0.201,"d":14,"v":5},
      {"a":0.193,"d":15,"v":5.3},{"a":0.195,"d":15,"v":11.7},{"a":0.197,"d":15,"v":30},{"a":0.199,"d":15,"v":11.4},{"a":0.201,"d":15,"v":5},
      {"a":0.193,"d":16,"v":5.3},{"a":0.195,"d":16,"v":11.7},{"a":0.197,"d":16,"v":30},{"a":0.199,"d":16,"v":11.4},{"a":0.201,"d":16,"v":5},
      {"a":0.193,"d":17,"v":5.3},{"a":0.195,"d":17,"v":11.7},{"a":0.197,"d":17,"v":30},{"a":0.199,"d":17,"v":11.4},{"a":0.201,"d":17,"v":5},
      {"a":0.193,"d":18,"v":5.3},{"a":0.195,"d":18,"v":11.7},{"a":0.197,"d":18,"v":30},{"a":0.199,"d":18,"v":11.4},{"a":0.201,"d":18,"v":5},
      {"a":0.193,"d":19,"v":5.3},{"a":0.195,"d":19,"v":11.7},{"a":0.197,"d":19,"v":30},{"a":0.199,"d":19,"v":11.4},{"a":0.201,"d":19,"v":5},
      {"a":0.193,"d":20,"v":5.3},{"a":0.195,"d":20,"v":11.7},{"a":0.197,"d":20,"v":30},{"a":0.199,"d":20,"v":11.4},{"a":0.201,"d":20,"v":5},
      {"a":0.193,"d":21,"v":5.3},{"a":0.195,"d":21,"v":11.7},{"a":0.197,"d":21,"v":30},{"a":0.199,"d":21,"v":11.4},{"a":0.201,"d":21,"v":5},
      {"a":0.193,"d":22,"v":5.3},{"a":0.195,"d":22,"v":11.7},{"a":0.197,"d":22,"v":30},{"a":0.199,"d":22,"v":11.4},{"a":0.201,"d":22,"v":5},
      {"a":0.193,"d":23,"v":5.3},{"a":0.195,"d":23,"v":11.7},{"a":0.197,"d":23,"v":30},{"a":0.199,"d":23,"v":11.4},{"a":0.201,"d":23,"v":5},
      {"a":0.193,"d":24,"v":5.3},{"a":0.195,"d":24,"v":11.7},{"a":0.197,"d":24,"v":30},{"a":0.199,"d":24,"v":11.4},{"a":0.201,"d":24,"v":5},
      {"a":0.193,"d":25,"v":5.3},{"a":0.195,"d":25,"v":11.7},{"a":0.197,"d":25,"v":30},{"a":0.199,"d":25,"v":11.4},{"a":0.201,"d":25,"v":5},
      {"a":0.193,"d":26,"v":5.3},{"a":0.195,"d":26,"v":11.7},{"a":0.197,"d":26,"v":30},{"a":0.199,"d":26,"v":11.4},{"a":0.201,"d":26,"v":5},
      {"a":0.193,"d":27,"v":5.3},{"a":0.195,"d":27,"v":11.7},{"a":0.197,"d":27,"v":30},{"a":0.199,"d":27,"v":11.4},{"a":0.201,"d":27,"v":5},
      {"a":0.193,"d":28,"v":5.3},{"a":0.195,"d":28,"v":11.7},{"a":0.197,"d":28,"v":30},{"a":0.199,"d":28,"v":11.4},{"a":0.201,"d":28,"v":5},
      {"a":0.193,"d":29,"v":5.3},{"a":0.195,"d":29,"v":11.7},{"a":0.197,"d":29,"v":30},{"a":0.199,"d":29,"v":11.4},{"a":0.201,"d":29,"v":5},
      {"a":0.193,"d":30,"v":5.1},{"a":0.195,"d":30,"v":11},{"a":0.197,"d":30,"v":28},{"a":0.199,"d":30,"v":10.7},{"a":0.201,"d":30,"v":4.8},
      {"a":0.193,"d":31,"v":4.7},{"a":0.195,"d":31,"v":10.1},{"a":0.197,"d":31,"v":25},{"a":0.199,"d":31,"v":9.8},{"a":0.201,"d":31,"v":4.4},
      {"a":0.193,"d":32,"v":4.2},{"a":0.195,"d":32,"v":8.7},{"a":0.197,"d":32,"v":21},{"a":0.199,"d":32,"v":8.4},{"a":0.201,"d":32,"v":3.9},
      {"a":0.193,"d":33,"v":3.7},{"a":0.195,"d":33,"v":7.4},{"a":0.197,"d":33,"v":17},{"a":0.199,"d":33,"v":7.1},{"a":0.201,"d":33,"v":3.4},
      {"a":0.193,"d":34,"v":3.2},{"a":0.195,"d":34,"v":5.9},{"a":0.197,"d":34,"v":12.5},{"a":0.199,"d":34,"v":5.6},{"a":0.201,"d":34,"v":2.9},
      {"a":0.193,"d":35,"v":2.8},{"a":0.195,"d":35,"v":4.8},{"a":0.197,"d":35,"v":9},{"a":0.199,"d":35,"v":4.5},{"a":0.201,"d":35,"v":2.5},
      {"a":0.193,"d":36,"v":2.5},{"a":0.195,"d":36,"v":3.9},{"a":0.197,"d":36,"v":6.5},{"a":0.199,"d":36,"v":3.6},{"a":0.201,"d":36,"v":2.2},
      {"a":0.193,"d":37,"v":2.2},{"a":0.195,"d":37,"v":3.3},{"a":0.197,"d":37,"v":4.5},{"a":0.199,"d":37,"v":3},{"a":0.201,"d":37,"v":1.9},
      {"a":0.193,"d":38,"v":2.1},{"a":0.195,"d":38,"v":2.8},{"a":0.197,"d":38,"v":3.3},{"a":0.199,"d":38,"v":2.5},{"a":0.201,"d":38,"v":1.8},
      {"a":0.193,"d":39,"v":1.9},{"a":0.195,"d":39,"v":2.5},{"a":0.197,"d":39,"v":2.6},{"a":0.199,"d":39,"v":2.2},{"a":0.201,"d":39,"v":1.6},
      {"a":0.193,"d":40,"v":0.6},{"a":0.195,"d":40,"v":0.9},{"a":0.197,"d":40,"v":1.2},{"a":0.199,"d":40,"v":0.8},{"a":0.201,"d":40,"v":0.5},
      {"a":0.193,"d":41,"v":0.45},{"a":0.195,"d":41,"v":0.55},{"a":0.197,"d":41,"v":0.7},{"a":0.199,"d":41,"v":0.5},{"a":0.201,"d":41,"v":0.4},
      {"a":0.229,"d":2,"v":1.34},{"a":0.231,"d":2,"v":1.71},{"a":0.233,"d":2,"v":2.51},{"a":0.235,"d":2,"v":4.9},{"a":0.237,"d":2,"v":3.6},{"a":0.239,"d":2,"v":2.01},{"a":0.241,"d":2,"v":1.48},{"a":0.243,"d":2,"v":1.22},
      {"a":0.229,"d":3,"v":1.58},{"a":0.231,"d":3,"v":2.22},{"a":0.233,"d":3,"v":3.59},{"a":0.235,"d":3,"v":7.7},{"a":0.237,"d":3,"v":5.46},{"a":0.239,"d":3,"v":2.73},{"a":0.241,"d":3,"v":1.82},{"a":0.243,"d":3,"v":1.38},
      {"a":0.229,"d":4,"v":1.96},{"a":0.231,"d":4,"v":3.04},{"a":0.233,"d":4,"v":5.32},{"a":0.235,"d":4,"v":12.2},{"a":0.237,"d":4,"v":8.44},{"a":0.239,"d":4,"v":3.88},{"a":0.241,"d":4,"v":2.36},{"a":0.243,"d":4,"v":1.64},
      {"a":0.229,"d":5,"v":2.38},{"a":0.231,"d":5,"v":3.93},{"a":0.233,"d":5,"v":7.21},{"a":0.235,"d":5,"v":17},{"a":0.237,"d":5,"v":12.9},{"a":0.239,"d":5,"v":5.59},{"a":0.241,"d":5,"v":3.17},{"a":0.243,"d":5,"v":2.02},
      {"a":0.229,"d":6,"v":2.76},{"a":0.231,"d":6,"v":4.74},{"a":0.233,"d":6,"v":8.92},{"a":0.235,"d":6,"v":21.5},{"a":0.237,"d":6,"v":17.7},{"a":0.239,"d":6,"v":7.48},{"a":0.241,"d":6,"v":4.06},{"a":0.243,"d":6,"v":2.44},
      {"a":0.229,"d":7,"v":3.18},{"a":0.231,"d":7,"v":5.64},{"a":0.233,"d":7,"v":10.8},{"a":0.235,"d":7,"v":26.4},{"a":0.237,"d":7,"v":24},{"a":0.239,"d":7,"v":9.89},{"a":0.241,"d":7,"v":5.2},{"a":0.243,"d":7,"v":2.98},
      {"a":0.229,"d":8,"v":3.4},{"a":0.231,"d":8,"v":6.1},{"a":0.233,"d":8,"v":11.8},{"a":0.235,"d":8,"v":28.9},{"a":0.237,"d":8,"v":28.9},{"a":0.239,"d":8,"v":11.8},{"a":0.241,"d":8,"v":6.1},{"a":0.243,"d":8,"v":3.4},
      {"a":0.229,"d":9,"v":3.56},{"a":0.231,"d":9,"v":6.44},{"a":0.233,"d":9,"v":12.5},{"a":0.235,"d":9,"v":30.8},{"a":0.237,"d":9,"v":30.8},{"a":0.239,"d":9,"v":12.5},{"a":0.241,"d":9,"v":6.44},{"a":0.243,"d":9,"v":3.56},
      {"a":0.229,"d":10,"v":3.56},{"a":0.231,"d":10,"v":6.44},{"a":0.233,"d":10,"v":12.5},{"a":0.235,"d":10,"v":30.8},{"a":0.237,"d":10,"v":30.8},{"a":0.239,"d":10,"v":12.5},{"a":0.241,"d":10,"v":6.44},{"a":0.243,"d":10,"v":3.56},
      {"a":0.229,"d":11,"v":3.4},{"a":0.231,"d":11,"v":6.1},{"a":0.233,"d":11,"v":11.8},{"a":0.235,"d":11,"v":28.9},{"a":0.237,"d":11,"v":28.9},{"a":0.239,"d":11,"v":11.8},{"a":0.241,"d":11,"v":6.1},{"a":0.243,"d":11,"v":3.4},
      {"a":0.229,"d":12,"v":2.98},{"a":0.231,"d":12,"v":5.2},{"a":0.233,"d":12,"v":9.89},{"a":0.235,"d":12,"v":24},{"a":0.237,"d":12,"v":26.4},{"a":0.239,"d":12,"v":10.8},{"a":0.241,"d":12,"v":5.64},{"a":0.243,"d":12,"v":3.18},
      {"a":0.229,"d":13,"v":2.51},{"a":0.231,"d":13,"v":4.21},{"a":0.233,"d":13,"v":7.8},{"a":0.235,"d":13,"v":18.6},{"a":0.237,"d":13,"v":22.5},{"a":0.239,"d":13,"v":9.32},{"a":0.241,"d":13,"v":4.93},{"a":0.243,"d":13,"v":2.85},
      {"a":0.229,"d":14,"v":2.02},{"a":0.231,"d":14,"v":3.17},{"a":0.233,"d":14,"v":5.59},{"a":0.235,"d":14,"v":12.9},{"a":0.237,"d":14,"v":17},{"a":0.239,"d":14,"v":7.21},{"a":0.241,"d":14,"v":3.93},{"a":0.243,"d":14,"v":2.38},
      {"a":0.229,"d":15,"v":1.64},{"a":0.231,"d":15,"v":2.36},{"a":0.233,"d":15,"v":3.88},{"a":0.235,"d":15,"v":8.44},{"a":0.237,"d":15,"v":12.2},{"a":0.239,"d":15,"v":5.32},{"a":0.241,"d":15,"v":3.04},{"a":0.243,"d":15,"v":1.96},
      {"a":0.229,"d":16,"v":1.38},{"a":0.231,"d":16,"v":1.82},{"a":0.233,"d":16,"v":2.73},{"a":0.235,"d":16,"v":5.46},{"a":0.237,"d":16,"v":7.7},{"a":0.239,"d":16,"v":3.59},{"a":0.241,"d":16,"v":2.22},{"a":0.243,"d":16,"v":1.58},
      {"a":0.229,"d":17,"v":1.22},{"a":0.231,"d":17,"v":1.48},{"a":0.233,"d":17,"v":2.01},{"a":0.235,"d":17,"v":3.6},{"a":0.237,"d":17,"v":4.9},{"a":0.239,"d":17,"v":2.51},{"a":0.241,"d":17,"v":1.71},{"a":0.243,"d":17,"v":1.34},
      {"a":0.229,"d":22,"v":1.2},{"a":0.231,"d":22,"v":1.43},{"a":0.233,"d":22,"v":1.9},{"a":0.235,"d":22,"v":3.33},{"a":0.237,"d":22,"v":3.33},{"a":0.239,"d":22,"v":1.9},{"a":0.241,"d":22,"v":1.43},{"a":0.243,"d":22,"v":1.2},
      {"a":0.229,"d":23,"v":1.32},{"a":0.231,"d":23,"v":1.68},{"a":0.233,"d":23,"v":2.44},{"a":0.235,"d":23,"v":4.72},{"a":0.237,"d":23,"v":4.72},{"a":0.239,"d":23,"v":2.44},{"a":0.241,"d":23,"v":1.68},{"a":0.243,"d":23,"v":1.32},
      {"a":0.229,"d":24,"v":1.52},{"a":0.231,"d":24,"v":2.1},{"a":0.233,"d":24,"v":3.34},{"a":0.235,"d":24,"v":7.05},{"a":0.237,"d":24,"v":7.05},{"a":0.239,"d":24,"v":3.34},{"a":0.241,"d":24,"v":2.1},{"a":0.243,"d":24,"v":1.52},
      {"a":0.229,"d":25,"v":1.8},{"a":0.231,"d":25,"v":2.7},{"a":0.233,"d":25,"v":4.6},{"a":0.235,"d":25,"v":10.3},{"a":0.237,"d":25,"v":10.3},{"a":0.239,"d":25,"v":4.6},{"a":0.241,"d":25,"v":2.7},{"a":0.243,"d":25,"v":1.8},
      {"a":0.229,"d":26,"v":2.2},{"a":0.231,"d":26,"v":3.55},{"a":0.233,"d":26,"v":6.4},{"a":0.235,"d":26,"v":15},{"a":0.237,"d":26,"v":15},{"a":0.239,"d":26,"v":6.4},{"a":0.241,"d":26,"v":3.55},{"a":0.243,"d":26,"v":2.2},
      {"a":0.229,"d":27,"v":2.68},{"a":0.231,"d":27,"v":4.57},{"a":0.233,"d":27,"v":8.56},{"a":0.235,"d":27,"v":20.5},{"a":0.237,"d":27,"v":20.5},{"a":0.239,"d":27,"v":8.56},{"a":0.241,"d":27,"v":4.57},{"a":0.243,"d":27,"v":2.68},
      {"a":0.229,"d":28,"v":3.08},{"a":0.231,"d":28,"v":5.42},{"a":0.233,"d":28,"v":10.4},{"a":0.235,"d":28,"v":25.2},{"a":0.237,"d":28,"v":25.2},{"a":0.239,"d":28,"v":10.4},{"a":0.241,"d":28,"v":5.42},{"a":0.243,"d":28,"v":3.08},
      {"a":0.229,"d":29,"v":3.4},{"a":0.231,"d":29,"v":6.1},{"a":0.233,"d":29,"v":11.8},{"a":0.235,"d":29,"v":28.9},{"a":0.237,"d":29,"v":28.9},{"a":0.239,"d":29,"v":11.8},{"a":0.241,"d":29,"v":6.1},{"a":0.243,"d":29,"v":3.4},
      {"a":0.229,"d":30,"v":3.56},{"a":0.231,"d":30,"v":6.44},{"a":0.233,"d":30,"v":12.5},{"a":0.235,"d":30,"v":30.8},{"a":0.237,"d":30,"v":30.8},{"a":0.239,"d":30,"v":12.5},{"a":0.241,"d":30,"v":6.44},{"a":0.243,"d":30,"v":3.56},
      {"a":0.229,"d":31,"v":3.56},{"a":0.231,"d":31,"v":6.44},{"a":0.233,"d":31,"v":12.5},{"a":0.235,"d":31,"v":30.8},{"a":0.237,"d":31,"v":30.8},{"a":0.239,"d":31,"v":12.5},{"a":0.241,"d":31,"v":6.44},{"a":0.243,"d":31,"v":3.56},
      {"a":0.229,"d":32,"v":3.4},{"a":0.231,"d":32,"v":6.1},{"a":0.233,"d":32,"v":11.8},{"a":0.235,"d":32,"v":28.9},{"a":0.237,"d":32,"v":28.9},{"a":0.239,"d":32,"v":11.8},{"a":0.241,"d":32,"v":6.1},{"a":0.243,"d":32,"v":3.4},
      {"a":0.229,"d":33,"v":3.16},{"a":0.231,"d":33,"v":5.59},{"a":0.233,"d":33,"v":10.7},{"a":0.235,"d":33,"v":26.1},{"a":0.237,"d":33,"v":26.1},{"a":0.239,"d":33,"v":10.7},{"a":0.241,"d":33,"v":5.59},{"a":0.243,"d":33,"v":3.16},
      {"a":0.229,"d":34,"v":2.76},{"a":0.231,"d":34,"v":4.74},{"a":0.233,"d":34,"v":8.92},{"a":0.235,"d":34,"v":21.5},{"a":0.237,"d":34,"v":21.5},{"a":0.239,"d":34,"v":8.92},{"a":0.241,"d":34,"v":4.74},{"a":0.243,"d":34,"v":2.76},
      {"a":0.229,"d":35,"v":2.28},{"a":0.231,"d":35,"v":3.72},{"a":0.233,"d":35,"v":6.76},{"a":0.235,"d":35,"v":15.9},{"a":0.237,"d":35,"v":15.9},{"a":0.239,"d":35,"v":6.76},{"a":0.241,"d":35,"v":3.72},{"a":0.243,"d":35,"v":2.28},
      {"a":0.229,"d":36,"v":1.88},{"a":0.231,"d":36,"v":2.87},{"a":0.233,"d":36,"v":4.96},{"a":0.235,"d":36,"v":11.2},{"a":0.237,"d":36,"v":11.2},{"a":0.239,"d":36,"v":4.96},{"a":0.241,"d":36,"v":2.87},{"a":0.243,"d":36,"v":1.88},
      {"a":0.229,"d":37,"v":1.56},{"a":0.231,"d":37,"v":2.19},{"a":0.233,"d":37,"v":3.52},{"a":0.235,"d":37,"v":7.51},{"a":0.237,"d":37,"v":7.51},{"a":0.239,"d":37,"v":3.52},{"a":0.241,"d":37,"v":2.19},{"a":0.243,"d":37,"v":1.56},
      {"a":0.229,"d":38,"v":1.36},{"a":0.231,"d":38,"v":1.77},{"a":0.233,"d":38,"v":2.62},{"a":0.235,"d":38,"v":5.19},{"a":0.237,"d":38,"v":5.19},{"a":0.239,"d":38,"v":2.62},{"a":0.241,"d":38,"v":1.77},{"a":0.243,"d":38,"v":1.36},
      {"a":0.229,"d":39,"v":1.22},{"a":0.231,"d":39,"v":1.48},{"a":0.233,"d":39,"v":2.01},{"a":0.235,"d":39,"v":3.6},{"a":0.237,"d":39,"v":3.6},{"a":0.239,"d":39,"v":2.01},{"a":0.241,"d":39,"v":1.48},{"a":0.243,"d":39,"v":1.22},
      {"a":0.229,"d":40,"v":0.45},{"a":0.231,"d":40,"v":0.55},{"a":0.233,"d":40,"v":0.78},{"a":0.235,"d":40,"v":1.47},{"a":0.237,"d":40,"v":1.47},{"a":0.239,"d":40,"v":0.78},{"a":0.241,"d":40,"v":0.55},{"a":0.243,"d":40,"v":0.45},
      {"a":0.292,"d":1,"v":2.91},{"a":0.294,"d":1,"v":3.61},{"a":0.296,"d":1,"v":4.24},{"a":0.298,"d":1,"v":4.65},{"a":0.3,"d":1,"v":4.75},{"a":0.302,"d":1,"v":4.5},{"a":0.304,"d":1,"v":3.98},{"a":0.306,"d":1,"v":3.3},{"a":0.308,"d":1,"v":2.62},{"a":0.31,"d":1,"v":2.03},{"a":0.312,"d":1,"v":1.6},{"a":0.314,"d":1,"v":1.32},{"a":0.316,"d":1,"v":1.15},
      {"a":0.292,"d":2,"v":3.5},{"a":0.294,"d":2,"v":4.55},{"a":0.296,"d":2,"v":5.58},{"a":0.298,"d":2,"v":6.36},{"a":0.3,"d":2,"v":6.72},{"a":0.302,"d":2,"v":6.55},{"a":0.304,"d":2,"v":5.9},{"a":0.306,"d":2,"v":4.93},{"a":0.308,"d":2,"v":3.87},{"a":0.31,"d":2,"v":2.91},{"a":0.312,"d":2,"v":2.15},{"a":0.314,"d":2,"v":1.63},{"a":0.316,"d":2,"v":1.32},
      {"a":0.292,"d":3,"v":3.9},{"a":0.294,"d":3,"v":5.26},{"a":0.296,"d":3,"v":6.71},{"a":0.298,"d":3,"v":7.95},{"a":0.3,"d":3,"v":8.7},{"a":0.302,"d":3,"v":8.76},{"a":0.304,"d":3,"v":8.11},{"a":0.306,"d":3,"v":6.93},{"a":0.308,"d":3,"v":5.5},{"a":0.31,"d":3,"v":4.1},{"a":0.312,"d":3,"v":2.95},{"a":0.314,"d":3,"v":2.11},{"a":0.316,"d":3,"v":1.58},
      {"a":0.292,"d":4,"v":3.95},{"a":0.294,"d":4,"v":5.51},{"a":0.296,"d":4,"v":7.28},{"a":0.298,"d":4,"v":8.94},{"a":0.3,"d":4,"v":10.1},{"a":0.302,"d":4,"v":10.56},{"a":0.304,"d":4,"v":10.1},{"a":0.306,"d":4,"v":8.88},{"a":0.308,"d":4,"v":7.21},{"a":0.31,"d":4,"v":5.45},{"a":0.312,"d":4,"v":3.9},{"a":0.314,"d":4,"v":2.72},{"a":0.316,"d":4,"v":1.93},
      {"a":0.292,"d":5,"v":3.65},{"a":0.294,"d":5,"v":5.21},{"a":0.296,"d":5,"v":7.08},{"a":0.298,"d":5,"v":9},{"a":0.3,"d":5,"v":10.55},{"a":0.302,"d":5,"v":11.38},{"a":0.304,"d":5,"v":11.26},{"a":0.306,"d":5,"v":10.23},{"a":0.308,"d":5,"v":8.55},{"a":0.31,"d":5,"v":6.62},{"a":0.312,"d":5,"v":4.8},{"a":0.314,"d":5,"v":3.34},{"a":0.316,"d":5,"v":2.32},
      {"a":0.292,"d":6,"v":3.1},{"a":0.294,"d":6,"v":4.46},{"a":0.296,"d":6,"v":6.19},{"a":0.298,"d":6,"v":8.09},{"a":0.3,"d":6,"v":9.8},{"a":0.302,"d":6,"v":10.93},{"a":0.304,"d":6,"v":11.2},{"a":0.306,"d":6,"v":10.53},{"a":0.308,"d":6,"v":9.09},{"a":0.31,"d":6,"v":7.25},{"a":0.312,"d":6,"v":5.39},{"a":0.314,"d":6,"v":3.81},{"a":0.316,"d":6,"v":2.64},
      {"a":0.292,"d":7,"v":2.47},{"a":0.294,"d":7,"v":3.51},{"a":0.296,"d":7,"v":4.91},{"a":0.298,"d":7,"v":6.55},{"a":0.3,"d":7,"v":8.15},{"a":0.302,"d":7,"v":9.38},{"a":0.304,"d":7,"v":9.93},{"a":0.306,"d":7,"v":9.67},{"a":0.308,"d":7,"v":8.65},{"a":0.31,"d":7,"v":7.14},{"a":0.312,"d":7,"v":5.48},{"a":0.314,"d":7,"v":3.98},{"a":0.316,"d":7,"v":2.8},
      {"a":0.292,"d":8,"v":1.9},{"a":0.294,"d":8,"v":2.6},{"a":0.296,"d":8,"v":3.59},{"a":0.298,"d":8,"v":4.82},{"a":0.3,"d":8,"v":6.11},{"a":0.302,"d":8,"v":7.22},{"a":0.304,"d":8,"v":7.89},{"a":0.306,"d":8,"v":7.94},{"a":0.308,"d":8,"v":7.36},{"a":0.31,"d":8,"v":6.31},{"a":0.312,"d":8,"v":5.03},{"a":0.314,"d":8,"v":3.78},{"a":0.316,"d":8,"v":2.74},
      {"a":0.292,"d":9,"v":1.49},{"a":0.294,"d":9,"v":1.9},{"a":0.296,"d":9,"v":2.51},{"a":0.298,"d":9,"v":3.31},{"a":0.3,"d":9,"v":4.22},{"a":0.302,"d":9,"v":5.07},{"a":0.304,"d":9,"v":5.68},{"a":0.306,"d":9,"v":5.9},{"a":0.308,"d":9,"v":5.66},{"a":0.31,"d":9,"v":5.04},{"a":0.312,"d":9,"v":4.19},{"a":0.314,"d":9,"v":3.28},{"a":0.316,"d":9,"v":2.48},
      {"a":0.292,"d":10,"v":1.23},{"a":0.294,"d":10,"v":1.45},{"a":0.296,"d":10,"v":1.78},{"a":0.298,"d":10,"v":2.24},{"a":0.3,"d":10,"v":2.79},{"a":0.302,"d":10,"v":3.36},{"a":0.304,"d":10,"v":3.82},{"a":0.306,"d":10,"v":4.06},{"a":0.308,"d":10,"v":4.02},{"a":0.31,"d":10,"v":3.72},{"a":0.312,"d":10,"v":3.22},{"a":0.314,"d":10,"v":2.66},{"a":0.316,"d":10,"v":2.12},
      {"a":0.292,"d":16,"v":2.29},{"a":0.294,"d":16,"v":2.9},{"a":0.296,"d":16,"v":3.57},{"a":0.298,"d":16,"v":4.15},{"a":0.3,"d":16,"v":4.51},{"a":0.302,"d":16,"v":4.56},{"a":0.304,"d":16,"v":4.28},{"a":0.306,"d":16,"v":3.76},{"a":0.308,"d":16,"v":3.1},{"a":0.31,"d":16,"v":2.46},{"a":0.312,"d":16,"v":1.92},{"a":0.314,"d":16,"v":1.53},{"a":0.316,"d":16,"v":1.28},
      {"a":0.292,"d":17,"v":2.77},{"a":0.294,"d":17,"v":3.69},{"a":0.296,"d":17,"v":4.71},{"a":0.298,"d":17,"v":5.65},{"a":0.3,"d":17,"v":6.31},{"a":0.302,"d":17,"v":6.52},{"a":0.304,"d":17,"v":6.21},{"a":0.306,"d":17,"v":5.48},{"a":0.308,"d":17,"v":4.5},{"a":0.31,"d":17,"v":3.49},{"a":0.312,"d":17,"v":2.61},{"a":0.314,"d":17,"v":1.95},{"a":0.316,"d":17,"v":1.51},
      {"a":0.292,"d":18,"v":3.17},{"a":0.294,"d":18,"v":4.38},{"a":0.296,"d":18,"v":5.76},{"a":0.298,"d":18,"v":7.12},{"a":0.3,"d":18,"v":8.16},{"a":0.302,"d":18,"v":8.61},{"a":0.304,"d":18,"v":8.36},{"a":0.306,"d":18,"v":7.48},{"a":0.308,"d":18,"v":6.19},{"a":0.31,"d":18,"v":4.78},{"a":0.312,"d":18,"v":3.5},{"a":0.314,"d":18,"v":2.51},{"a":0.316,"d":18,"v":1.82},
      {"a":0.292,"d":19,"v":3.36},{"a":0.294,"d":19,"v":4.77},{"a":0.296,"d":19,"v":6.45},{"a":0.298,"d":19,"v":8.17},{"a":0.3,"d":19,"v":9.58},{"a":0.302,"d":19,"v":10.35},{"a":0.304,"d":19,"v":10.26},{"a":0.306,"d":19,"v":9.35},{"a":0.308,"d":19,"v":7.84},{"a":0.31,"d":19,"v":6.1},{"a":0.312,"d":19,"v":4.46},{"a":0.314,"d":19,"v":3.13},{"a":0.316,"d":19,"v":2.2},
      {"a":0.292,"d":20,"v":3.3},{"a":0.294,"d":20,"v":4.74},{"a":0.296,"d":20,"v":6.54},{"a":0.298,"d":20,"v":8.46},{"a":0.3,"d":20,"v":10.15},{"a":0.302,"d":20,"v":11.2},{"a":0.304,"d":20,"v":11.35},{"a":0.306,"d":20,"v":10.55},{"a":0.308,"d":20,"v":9.02},{"a":0.31,"d":20,"v":7.12},{"a":0.312,"d":20,"v":5.25},{"a":0.314,"d":20,"v":3.69},{"a":0.316,"d":20,"v":2.54},
      {"a":0.292,"d":21,"v":2.98},{"a":0.294,"d":21,"v":4.3},{"a":0.296,"d":21,"v":6.01},{"a":0.298,"d":21,"v":7.92},{"a":0.3,"d":21,"v":9.67},{"a":0.302,"d":21,"v":10.9},{"a":0.304,"d":21,"v":11.29},{"a":0.306,"d":21,"v":10.71},{"a":0.308,"d":21,"v":9.36},{"a":0.31,"d":21,"v":7.52},{"a":0.312,"d":21,"v":5.64},{"a":0.314,"d":21,"v":4},{"a":0.316,"d":21,"v":2.77},
      {"a":0.292,"d":22,"v":2.52},{"a":0.294,"d":22,"v":3.59},{"a":0.296,"d":22,"v":5.03},{"a":0.298,"d":22,"v":6.69},{"a":0.3,"d":22,"v":8.31},{"a":0.302,"d":22,"v":9.54},{"a":0.304,"d":22,"v":10.09},{"a":0.306,"d":22,"v":9.79},{"a":0.308,"d":22,"v":8.74},{"a":0.31,"d":22,"v":7.2},{"a":0.312,"d":22,"v":5.51},{"a":0.314,"d":22,"v":3.98},{"a":0.316,"d":22,"v":2.8},
      {"a":0.292,"d":23,"v":2.04},{"a":0.294,"d":23,"v":2.81},{"a":0.296,"d":23,"v":3.88},{"a":0.298,"d":23,"v":5.17},{"a":0.3,"d":23,"v":6.49},{"a":0.302,"d":23,"v":7.57},{"a":0.304,"d":23,"v":8.15},{"a":0.306,"d":23,"v":8.09},{"a":0.308,"d":23,"v":7.39},{"a":0.31,"d":23,"v":6.23},{"a":0.312,"d":23,"v":4.9},{"a":0.314,"d":23,"v":3.65},{"a":0.316,"d":23,"v":2.63},
      {"a":0.292,"d":24,"v":1.63},{"a":0.294,"d":24,"v":2.13},{"a":0.296,"d":24,"v":2.83},{"a":0.298,"d":24,"v":3.72},{"a":0.3,"d":24,"v":4.66},{"a":0.302,"d":24,"v":5.49},{"a":0.304,"d":24,"v":6.01},{"a":0.306,"d":24,"v":6.08},{"a":0.308,"d":24,"v":5.69},{"a":0.31,"d":24,"v":4.93},{"a":0.312,"d":24,"v":4},{"a":0.314,"d":24,"v":3.08},{"a":0.316,"d":24,"v":2.32},
      {"a":0.292,"d":25,"v":1.34},{"a":0.294,"d":25,"v":1.62},{"a":0.296,"d":25,"v":2.04},{"a":0.298,"d":25,"v":2.58},{"a":0.3,"d":25,"v":3.18},{"a":0.302,"d":25,"v":3.73},{"a":0.304,"d":25,"v":4.12},{"a":0.306,"d":25,"v":4.24},{"a":0.308,"d":25,"v":4.06},{"a":0.31,"d":25,"v":3.63},{"a":0.312,"d":25,"v":3.05},{"a":0.314,"d":25,"v":2.46},{"a":0.316,"d":25,"v":1.95},
      {"a":0.292,"d":26,"v":1.16},{"a":0.294,"d":26,"v":1.31},{"a":0.296,"d":26,"v":1.52},{"a":0.298,"d":26,"v":1.82},{"a":0.3,"d":26,"v":2.15},{"a":0.302,"d":26,"v":2.48},{"a":0.304,"d":26,"v":2.73},{"a":0.306,"d":26,"v":2.84},{"a":0.308,"d":26,"v":2.78},{"a":0.31,"d":26,"v":2.56},{"a":0.312,"d":26,"v":2.25},{"a":0.314,"d":26,"v":1.91},{"a":0.316,"d":26,"v":1.6},
      {"a":0.292,"d":30,"v":1.78},{"a":0.294,"d":30,"v":2.19},{"a":0.296,"d":30,"v":2.65},{"a":0.298,"d":30,"v":3.08},{"a":0.3,"d":30,"v":3.38},{"a":0.302,"d":30,"v":3.48},{"a":0.304,"d":30,"v":3.35},{"a":0.306,"d":30,"v":3.03},{"a":0.308,"d":30,"v":2.59},{"a":0.31,"d":30,"v":2.14},{"a":0.312,"d":30,"v":1.74},{"a":0.314,"d":30,"v":1.43},{"a":0.316,"d":30,"v":1.23},
      {"a":0.292,"d":31,"v":2.21},{"a":0.294,"d":31,"v":2.88},{"a":0.296,"d":31,"v":3.63},{"a":0.298,"d":31,"v":4.36},{"a":0.3,"d":31,"v":4.91},{"a":0.302,"d":31,"v":5.13},{"a":0.304,"d":31,"v":4.97},{"a":0.306,"d":31,"v":4.47},{"a":0.308,"d":31,"v":3.76},{"a":0.31,"d":31,"v":3},{"a":0.312,"d":31,"v":2.32},{"a":0.314,"d":31,"v":1.79},{"a":0.316,"d":31,"v":1.43},
      {"a":0.292,"d":32,"v":2.68},{"a":0.294,"d":32,"v":3.63},{"a":0.296,"d":32,"v":4.75},{"a":0.298,"d":32,"v":5.85},{"a":0.3,"d":32,"v":6.72},{"a":0.302,"d":32,"v":7.13},{"a":0.304,"d":32,"v":6.98},{"a":0.306,"d":32,"v":6.31},{"a":0.308,"d":32,"v":5.28},{"a":0.31,"d":32,"v":4.14},{"a":0.312,"d":32,"v":3.1},{"a":0.314,"d":32,"v":2.27},{"a":0.316,"d":32,"v":1.71},
      {"a":0.292,"d":33,"v":3.09},{"a":0.294,"d":33,"v":4.3},{"a":0.296,"d":33,"v":5.78},{"a":0.298,"d":33,"v":7.28},{"a":0.3,"d":33,"v":8.5},{"a":0.302,"d":33,"v":9.16},{"a":0.304,"d":33,"v":9.07},{"a":0.306,"d":33,"v":8.27},{"a":0.308,"d":33,"v":6.94},{"a":0.31,"d":33,"v":5.43},{"a":0.312,"d":33,"v":4},{"a":0.314,"d":33,"v":2.85},{"a":0.316,"d":33,"v":2.04},
      {"a":0.292,"d":34,"v":3.31},{"a":0.294,"d":34,"v":4.71},{"a":0.296,"d":34,"v":6.43},{"a":0.298,"d":34,"v":8.25},{"a":0.3,"d":34,"v":9.78},{"a":0.302,"d":34,"v":10.69},{"a":0.304,"d":34,"v":10.72},{"a":0.306,"d":34,"v":9.87},{"a":0.308,"d":34,"v":8.37},{"a":0.31,"d":34,"v":6.56},{"a":0.312,"d":34,"v":4.82},{"a":0.314,"d":34,"v":3.39},{"a":0.316,"d":34,"v":2.36},
      {"a":0.292,"d":35,"v":3.27},{"a":0.294,"d":35,"v":4.72},{"a":0.296,"d":35,"v":6.52},{"a":0.298,"d":35,"v":8.47},{"a":0.3,"d":35,"v":10.18},{"a":0.302,"d":35,"v":11.27},{"a":0.304,"d":35,"v":11.45},{"a":0.306,"d":35,"v":10.67},{"a":0.308,"d":35,"v":9.15},{"a":0.31,"d":35,"v":7.24},{"a":0.312,"d":35,"v":5.35},{"a":0.314,"d":35,"v":3.75},{"a":0.316,"d":35,"v":2.59},
      {"a":0.292,"d":36,"v":3.01},{"a":0.294,"d":36,"v":4.32},{"a":0.296,"d":36,"v":6.01},{"a":0.298,"d":36,"v":7.87},{"a":0.3,"d":36,"v":9.56},{"a":0.302,"d":36,"v":10.72},{"a":0.304,"d":36,"v":11.03},{"a":0.306,"d":36,"v":10.42},{"a":0.308,"d":36,"v":9.04},{"a":0.31,"d":36,"v":7.24},{"a":0.312,"d":36,"v":5.42},{"a":0.314,"d":36,"v":3.84},{"a":0.316,"d":36,"v":2.67},
      {"a":0.292,"d":37,"v":2.57},{"a":0.294,"d":37,"v":3.65},{"a":0.296,"d":37,"v":5.05},{"a":0.298,"d":37,"v":6.64},{"a":0.3,"d":37,"v":8.13},{"a":0.302,"d":37,"v":9.2},{"a":0.304,"d":37,"v":9.59},{"a":0.306,"d":37,"v":9.18},{"a":0.308,"d":37,"v":8.09},{"a":0.31,"d":37,"v":6.58},{"a":0.312,"d":37,"v":5},{"a":0.314,"d":37,"v":3.61},{"a":0.316,"d":37,"v":2.55},
      {"a":0.292,"d":38,"v":2.11},{"a":0.294,"d":38,"v":2.89},{"a":0.296,"d":38,"v":3.93},{"a":0.298,"d":38,"v":5.13},{"a":0.3,"d":38,"v":6.3},{"a":0.302,"d":38,"v":7.19},{"a":0.304,"d":38,"v":7.57},{"a":0.306,"d":38,"v":7.35},{"a":0.308,"d":38,"v":6.58},{"a":0.31,"d":38,"v":5.46},{"a":0.312,"d":38,"v":4.24},{"a":0.314,"d":38,"v":3.15},{"a":0.316,"d":38,"v":2.29},
      {"a":0.292,"d":39,"v":1.69},{"a":0.294,"d":39,"v":2.2},{"a":0.296,"d":39,"v":2.89},{"a":0.298,"d":39,"v":3.71},{"a":0.3,"d":39,"v":4.52},{"a":0.302,"d":39,"v":5.17},{"a":0.304,"d":39,"v":5.49},{"a":0.306,"d":39,"v":5.4},{"a":0.308,"d":39,"v":4.92},{"a":0.31,"d":39,"v":4.18},{"a":0.312,"d":39,"v":3.35},{"a":0.314,"d":39,"v":2.57},{"a":0.316,"d":39,"v":1.96},
      {"a":0.292,"d":40,"v":0.63},{"a":0.294,"d":40,"v":0.84},{"a":0.296,"d":40,"v":1.14},{"a":0.298,"d":40,"v":1.49},{"a":0.3,"d":40,"v":1.86},{"a":0.302,"d":40,"v":2.16},{"a":0.304,"d":40,"v":2.33},{"a":0.306,"d":40,"v":2.32},{"a":0.308,"d":40,"v":2.13},{"a":0.31,"d":40,"v":1.81},{"a":0.312,"d":40,"v":1.45},{"a":0.314,"d":40,"v":1.1},{"a":0.316,"d":40,"v":0.81},
      {"a":0.292,"d":41,"v":0.41},{"a":0.294,"d":41,"v":0.5},{"a":0.296,"d":41,"v":0.62},{"a":0.298,"d":41,"v":0.76},{"a":0.3,"d":41,"v":0.9},{"a":0.302,"d":41,"v":1.02},{"a":0.304,"d":41,"v":1.09},{"a":0.306,"d":41,"v":1.09},{"a":0.308,"d":41,"v":1.02},{"a":0.31,"d":41,"v":0.9},{"a":0.312,"d":41,"v":0.75},{"a":0.314,"d":41,"v":0.6},{"a":0.316,"d":41,"v":0.48}
    ]
  },
  "vconcat": [
    {
      "title": {"text": "(a) Reflectivity rocking curve", "offset": -6, "frame": "group"},
      "width": 520,
      "height": 422,
      "data": {"name": "refl"},
      "layer": [
        {
          "mark": {"type": "line", "color": "#1f77b4", "strokeWidth": 2.6, "interpolate": "monotone", "clip": true},
          "encoding": {
            "x": {"field": "a", "type": "quantitative", "scale": {"domain": [0, 0.5], "nice": false, "zero": false},
                  "axis": {"orient": "bottom", "values": [0, 0.1, 0.2, 0.3, 0.4, 0.5], "format": ".1f", "tickSize": -8, "labelPadding": 11, "title": "Grazing incident angle (deg)", "titlePadding": 4}},
            "y": {"field": "r", "type": "quantitative", "scale": {"domain": [0, 1], "nice": false},
                  "axis": {"orient": "left", "values": [0, 0.2, 0.4, 0.6, 0.8, 1], "format": ".1f", "tickSize": -8, "labelPadding": 16, "title": "Reflectivity", "titlePadding": 9}}
          }
        },
        {
          "mark": {"type": "line", "opacity": 0},
          "encoding": {
            "x": {"field": "a", "type": "quantitative",
                  "axis": {"orient": "bottom", "values": [0.02, 0.04, 0.06, 0.08, 0.12, 0.14, 0.16, 0.18, 0.22, 0.24, 0.26, 0.28, 0.32, 0.34, 0.36, 0.38, 0.42, 0.44, 0.46, 0.48], "tickSize": -4, "labels": false, "domain": false, "title": null}},
            "y": {"field": "r", "type": "quantitative",
                  "axis": {"orient": "left", "values": [0.05, 0.1, 0.15, 0.25, 0.3, 0.35, 0.45, 0.5, 0.55, 0.65, 0.7, 0.75, 0.85, 0.9, 0.95], "tickSize": -4, "labels": false, "domain": false, "title": null}}
          }
        }
      ],
      "resolve": {"axis": {"x": "independent", "y": "independent"}}
    },
    {
      "hconcat": [
        {
          "title": {"text": "(b) Field intensity map", "offset": 3, "frame": "group"},
          "width": 421,
          "height": 424,
          "layer": [
            {
              "data": {"name": "field"},
              "mark": {"type": "rect", "clip": true, "strokeWidth": 0.6},
              "encoding": {
                "x": {"field": "a", "type": "quantitative", "bin": {"binned": true, "step": 0.004}, "scale": {"domain": [0.18, 0.32], "nice": false, "zero": false},
                      "axis": {"orient": "bottom", "values": [0.2, 0.225, 0.25, 0.275, 0.3], "format": ".3f", "tickSize": -8, "labelPadding": 11, "title": "Grazing incident angle (deg)", "titlePadding": 4}},
                "y": {"field": "d", "type": "quantitative", "bin": {"binned": true, "step": 2}, "scale": {"domain": [-5, 56], "nice": false, "zero": false, "reverse": true},
                      "axis": {"orient": "left", "values": [0, 10, 20, 30, 40, 50], "tickSize": -8, "labelPadding": 14, "title": "Depth (nm)", "titlePadding": 9}},
                "color": {"field": "v", "type": "quantitative", "legend": null,
                          "scale": {"domain": [0, 2.2, 2.5, 6.8, 7.5, 12.8, 13.2, 17.8, 18.2, 20], "range": ["#000080", "#0000ff", "#0000ff", "#00dbff", "#14ffe2", "#eeff08", "#ffec00", "#ff1300", "#e80000", "#800000"], "clamp": true, "interpolate": "rgb"}},
                "stroke": {"field": "v", "type": "quantitative", "legend": null,
                          "scale": {"domain": [0, 2.2, 2.5, 6.8, 7.5, 12.8, 13.2, 17.8, 18.2, 20], "range": ["#000080", "#0000ff", "#0000ff", "#00dbff", "#14ffe2", "#eeff08", "#ffec00", "#ff1300", "#e80000", "#800000"], "clamp": true, "interpolate": "rgb"}}
              }
            },
            {
              "data": {"name": "fine"},
              "mark": {"type": "rect", "clip": true, "strokeWidth": 0.6},
              "encoding": {
                "x": {"field": "a", "type": "quantitative", "bin": {"binned": true, "step": 0.002}, "axis": null},
                "y": {"field": "d", "type": "quantitative", "bin": {"binned": true, "step": 1}, "axis": null},
                "color": {"field": "v", "type": "quantitative", "legend": null},
                "stroke": {"field": "v", "type": "quantitative", "legend": null}
              }
            },
            {
              "data": {"name": "layers"},
              "mark": {"type": "rule", "color": "white", "strokeWidth": 1.6},
              "encoding": {
                "y": {"field": "d", "type": "quantitative",
                      "axis": {"orient": "left", "values": [-4, -2, 2, 4, 6, 8, 12, 14, 16, 18, 22, 24, 26, 28, 32, 34, 36, 38, 42, 44, 46, 48, 52, 54], "tickSize": -4, "labels": false, "domain": false, "title": null}}
              }
            },
            {
              "data": {"name": "field"},
              "mark": {"type": "point", "opacity": 0},
              "encoding": {
                "x": {"field": "a", "type": "quantitative",
                      "axis": {"orient": "bottom", "values": [0.185, 0.19, 0.195, 0.205, 0.21, 0.215, 0.22, 0.23, 0.235, 0.24, 0.245, 0.255, 0.26, 0.265, 0.27, 0.28, 0.285, 0.29, 0.295, 0.305, 0.31, 0.315], "tickSize": -4, "labels": false, "domain": false, "title": null}}
              }
            }
          ],
          "resolve": {"axis": {"x": "independent", "y": "independent"}}
        },
        {
          "width": 22,
          "height": 424,
          "data": {"name": "cbar"},
          "mark": {"type": "rect", "strokeWidth": 0.6},
          "encoding": {
            "y": {"field": "c", "type": "quantitative", "bin": {"binned": true, "step": 0.25}, "scale": {"domain": [0, 20], "nice": false, "zero": false},
                  "axis": {"orient": "right", "values": [0, 5, 10, 15, 20], "format": "d", "tickSize": -7, "labelPadding": 14, "title": "Field intensity", "titleAngle": 270, "titleBaseline": "top", "titlePadding": -2}},
            "color": {"field": "c", "type": "quantitative", "legend": null,
                      "scale": {"domain": [0, 2.2, 2.5, 6.8, 7.5, 12.8, 13.2, 17.8, 18.2, 20], "range": ["#000080", "#0000ff", "#0000ff", "#00dbff", "#14ffe2", "#eeff08", "#ffec00", "#ff1300", "#e80000", "#800000"], "clamp": true, "interpolate": "rgb"}},
            "stroke": {"field": "c", "type": "quantitative", "legend": null,
                      "scale": {"domain": [0, 2.2, 2.5, 6.8, 7.5, 12.8, 13.2, 17.8, 18.2, 20], "range": ["#000080", "#0000ff", "#0000ff", "#00dbff", "#14ffe2", "#eeff08", "#ffec00", "#ff1300", "#e80000", "#800000"], "clamp": true, "interpolate": "rgb"}}
          }
        }
      ],
      "spacing": 19,
      "bounds": "flush"
    }
  ],
  "spacing": 105,
  "bounds": "flush"
}
